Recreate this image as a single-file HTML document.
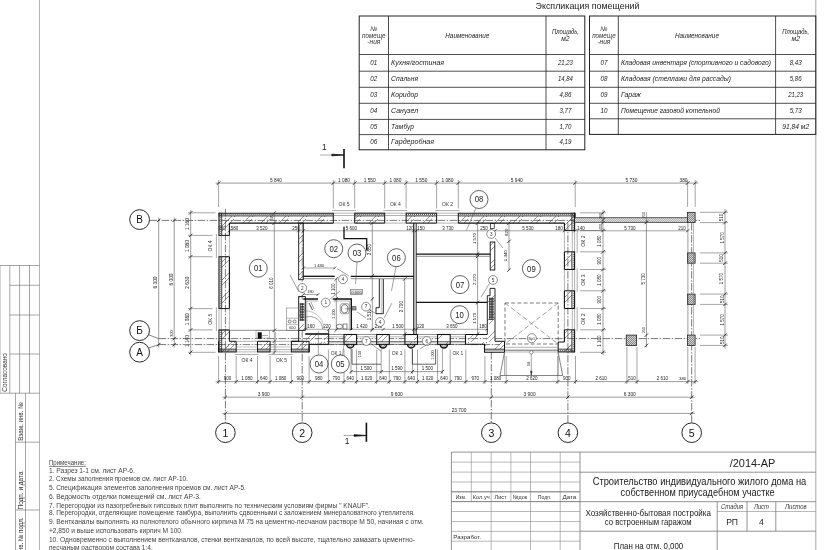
<!DOCTYPE html>
<html lang="ru"><head><meta charset="utf-8"><title>План на отм. 0,000</title>
<style>
html,body{margin:0;padding:0;background:#fff;}
body{width:825px;height:550px;overflow:hidden;}
svg{display:block;filter:grayscale(1);font-family:"Liberation Sans",sans-serif;}
svg text{white-space:pre;}
</style></head><body>
<svg width="825" height="550" viewBox="0 0 825 550">
<defs>
<pattern id="hw" width="18" height="18" patternUnits="userSpaceOnUse">
<path d="M-2 18 L18 -2 M3 18 L18 3 M-2 3 L3 -2" stroke="#505050" stroke-width="0.6" fill="none"/>
</pattern>
<pattern id="hd" width="2" height="2" patternUnits="userSpaceOnUse">
<path d="M-0.5 2.5 L2.5 -0.5 M-0.5 0.5 L0.5 -0.5 M1.5 2.5 L2.5 1.5" stroke="#333" stroke-width="0.55" fill="none"/>
</pattern>
<pattern id="hx" width="1.6" height="1.6" patternUnits="userSpaceOnUse">
<path d="M0 1.6 L1.6 0 M0 0 L1.6 1.6" stroke="#333" stroke-width="0.36" fill="none"/>
</pattern>
<pattern id="hc" width="2" height="2" patternUnits="userSpaceOnUse">
<rect width="2" height="2" fill="#d0d0d0"/>
<path d="M-0.5 2.5 L2.5 -0.5 M-0.5 0.5 L0.5 -0.5 M1.5 2.5 L2.5 1.5" stroke="#444" stroke-width="0.5" fill="none"/>
</pattern>
<pattern id="hl" width="2" height="2" patternUnits="userSpaceOnUse">
<rect width="2" height="2" fill="#e4e4e4"/>
<path d="M-0.5 2.5 L2.5 -0.5 M-0.5 0.5 L0.5 -0.5 M1.5 2.5 L2.5 1.5" stroke="#777" stroke-width="0.45" fill="none"/>
</pattern>
<pattern id="hv" width="2.4" height="2.6" patternUnits="userSpaceOnUse">
<rect width="2.4" height="2.6" fill="#3a3a3a"/>
<rect x="0.6" y="0.7" width="1.2" height="1.2" fill="#e8e8e8"/>
</pattern>
</defs>
<rect x="0" y="0" width="825" height="550" fill="#fff"/>
<line x1="39.5" y1="0" x2="39.5" y2="550" stroke="#b4b4b4" stroke-width="1"/>
<line x1="815.8" y1="0" x2="815.8" y2="550" stroke="#a8a8a8" stroke-width="1"/>
<line x1="0" y1="265.5" x2="39.5" y2="265.5" stroke="#6a6a6a" stroke-width="0.6"/>
<line x1="9.8" y1="285.3" x2="39.5" y2="285.3" stroke="#6a6a6a" stroke-width="0.6"/>
<line x1="9.8" y1="315" x2="39.5" y2="315" stroke="#6a6a6a" stroke-width="0.6"/>
<line x1="9.8" y1="354" x2="39.5" y2="354" stroke="#6a6a6a" stroke-width="0.6"/>
<line x1="0" y1="393.2" x2="39.5" y2="393.2" stroke="#6a6a6a" stroke-width="0.6"/>
<line x1="9.8" y1="265.5" x2="9.8" y2="393.2" stroke="#6a6a6a" stroke-width="0.6"/>
<line x1="19.6" y1="265.5" x2="19.6" y2="393.2" stroke="#6a6a6a" stroke-width="0.6"/>
<line x1="29.5" y1="265.5" x2="29.5" y2="393.2" stroke="#6a6a6a" stroke-width="0.6"/>
<line x1="0.3" y1="265.5" x2="0.3" y2="393" stroke="#aaa" stroke-width="0.6"/>
<line x1="15.5" y1="393.2" x2="15.5" y2="550" stroke="#6a6a6a" stroke-width="0.6"/>
<line x1="25.5" y1="393.2" x2="25.5" y2="550" stroke="#6a6a6a" stroke-width="0.6"/>
<line x1="15.5" y1="442.2" x2="39.5" y2="442.2" stroke="#6a6a6a" stroke-width="0.6"/>
<line x1="15.5" y1="510" x2="39.5" y2="510" stroke="#6a6a6a" stroke-width="0.6"/>
<text x="7.2" y="372.4" font-size="6.6" text-anchor="middle" transform="rotate(-90 7.2 372.4)" textLength="38.5" lengthAdjust="spacingAndGlyphs" fill="#333">Согласовано</text>
<text x="22.8" y="421.5" font-size="7" text-anchor="middle" transform="rotate(-90 22.8 421.5)" textLength="38.7" lengthAdjust="spacingAndGlyphs" fill="#333">Взам. инв. №</text>
<text x="22.8" y="490.5" font-size="7" text-anchor="middle" transform="rotate(-90 22.8 490.5)" textLength="38" lengthAdjust="spacingAndGlyphs" fill="#333">Подп. и дата</text>
<text x="22.8" y="536.5" font-size="7" text-anchor="middle" transform="rotate(-90 22.8 536.5)" textLength="38" lengthAdjust="spacingAndGlyphs" fill="#333">Инв. № подл.</text>
<g id="expl">
<text x="587.5" y="9.1" font-size="9.6" text-anchor="middle" textLength="104" lengthAdjust="spacingAndGlyphs" fill="#222">Экспликация помещений</text>
<rect x="359.2" y="16" width="225.6" height="133.8" fill="none" stroke="#222" stroke-width="1"/>
<line x1="359.2" y1="71.2" x2="584.8" y2="71.2" stroke="#222" stroke-width="0.8"/>
<line x1="359.2" y1="87.3" x2="584.8" y2="87.3" stroke="#222" stroke-width="0.8"/>
<line x1="359.2" y1="103.3" x2="584.8" y2="103.3" stroke="#222" stroke-width="0.8"/>
<line x1="359.2" y1="119.4" x2="584.8" y2="119.4" stroke="#222" stroke-width="0.8"/>
<line x1="359.2" y1="134.6" x2="584.8" y2="134.6" stroke="#222" stroke-width="0.8"/>
<line x1="388.5" y1="16" x2="388.5" y2="149.8" stroke="#222" stroke-width="0.8"/>
<line x1="546" y1="16" x2="546" y2="149.8" stroke="#222" stroke-width="0.8"/>
<text x="373.85" y="31.4" font-size="6.6" text-anchor="middle" font-style="italic" fill="#333">№</text>
<text x="373.85" y="37.6" font-size="6.6" text-anchor="middle" textLength="23.5" lengthAdjust="spacingAndGlyphs" font-style="italic" fill="#333">помеще</text>
<text x="373.85" y="43.7" font-size="6.6" text-anchor="middle" textLength="13" lengthAdjust="spacingAndGlyphs" font-style="italic" fill="#333">-ния</text>
<text x="467.25" y="37.6" font-size="6.8" text-anchor="middle" textLength="44" lengthAdjust="spacingAndGlyphs" font-style="italic" fill="#222">Наименование</text>
<text x="565.4" y="34.2" font-size="6.8" text-anchor="middle" textLength="27" lengthAdjust="spacingAndGlyphs" font-style="italic" fill="#222">Площадь,</text>
<text x="565.4" y="40.6" font-size="6.8" text-anchor="middle" font-style="italic" fill="#222">м2</text>
<text x="373.85" y="64.95" font-size="7" text-anchor="middle" textLength="7" lengthAdjust="spacingAndGlyphs" font-style="italic" fill="#222">01</text>
<text x="391.1" y="64.95" font-size="7.3" textLength="53" lengthAdjust="spacingAndGlyphs" font-style="italic" fill="#222">Кухня/гостиная</text>
<text x="565.4" y="64.95" font-size="7" text-anchor="middle" textLength="15" lengthAdjust="spacingAndGlyphs" font-style="italic" fill="#222">21,23</text>
<text x="373.85" y="81.35" font-size="7" text-anchor="middle" textLength="7" lengthAdjust="spacingAndGlyphs" font-style="italic" fill="#222">02</text>
<text x="391.1" y="81.35" font-size="7.3" textLength="27" lengthAdjust="spacingAndGlyphs" font-style="italic" fill="#222">Спальня</text>
<text x="565.4" y="81.35" font-size="7" text-anchor="middle" textLength="15" lengthAdjust="spacingAndGlyphs" font-style="italic" fill="#222">14,84</text>
<text x="373.85" y="97.4" font-size="7" text-anchor="middle" textLength="7" lengthAdjust="spacingAndGlyphs" font-style="italic" fill="#222">03</text>
<text x="391.1" y="97.4" font-size="7.3" textLength="27" lengthAdjust="spacingAndGlyphs" font-style="italic" fill="#222">Коридор</text>
<text x="565.4" y="97.4" font-size="7" text-anchor="middle" textLength="12" lengthAdjust="spacingAndGlyphs" font-style="italic" fill="#222">4,86</text>
<text x="373.85" y="113.45" font-size="7" text-anchor="middle" textLength="7" lengthAdjust="spacingAndGlyphs" font-style="italic" fill="#222">04</text>
<text x="391.1" y="113.45" font-size="7.3" textLength="27" lengthAdjust="spacingAndGlyphs" font-style="italic" fill="#222">Санузел</text>
<text x="565.4" y="113.45" font-size="7" text-anchor="middle" textLength="12" lengthAdjust="spacingAndGlyphs" font-style="italic" fill="#222">3,77</text>
<text x="373.85" y="129.1" font-size="7" text-anchor="middle" textLength="7" lengthAdjust="spacingAndGlyphs" font-style="italic" fill="#222">05</text>
<text x="391.1" y="129.1" font-size="7.3" textLength="23" lengthAdjust="spacingAndGlyphs" font-style="italic" fill="#222">Тамбур</text>
<text x="565.4" y="129.1" font-size="7" text-anchor="middle" textLength="12" lengthAdjust="spacingAndGlyphs" font-style="italic" fill="#222">1,70</text>
<text x="373.85" y="144.3" font-size="7" text-anchor="middle" textLength="7" lengthAdjust="spacingAndGlyphs" font-style="italic" fill="#222">06</text>
<text x="391.1" y="144.3" font-size="7.3" textLength="43" lengthAdjust="spacingAndGlyphs" font-style="italic" fill="#222">Гардеробная</text>
<text x="565.4" y="144.3" font-size="7" text-anchor="middle" textLength="12" lengthAdjust="spacingAndGlyphs" font-style="italic" fill="#222">4,19</text>
<line x1="359.2" y1="54.5" x2="584.8" y2="54.5" stroke="#222" stroke-width="0.8"/>
<rect x="589.5" y="16" width="226.3" height="118.4" fill="none" stroke="#222" stroke-width="1"/>
<line x1="589.5" y1="71.2" x2="815.8" y2="71.2" stroke="#222" stroke-width="0.8"/>
<line x1="589.5" y1="87.3" x2="815.8" y2="87.3" stroke="#222" stroke-width="0.8"/>
<line x1="589.5" y1="103.3" x2="815.8" y2="103.3" stroke="#222" stroke-width="0.8"/>
<line x1="589.5" y1="118.8" x2="815.8" y2="118.8" stroke="#222" stroke-width="0.8"/>
<line x1="618.3" y1="16" x2="618.3" y2="134.4" stroke="#222" stroke-width="0.8"/>
<line x1="775.6" y1="16" x2="775.6" y2="134.4" stroke="#222" stroke-width="0.8"/>
<text x="603.9" y="31.4" font-size="6.6" text-anchor="middle" font-style="italic" fill="#333">№</text>
<text x="603.9" y="37.6" font-size="6.6" text-anchor="middle" textLength="23.5" lengthAdjust="spacingAndGlyphs" font-style="italic" fill="#333">помеще</text>
<text x="603.9" y="43.7" font-size="6.6" text-anchor="middle" textLength="13" lengthAdjust="spacingAndGlyphs" font-style="italic" fill="#333">-ния</text>
<text x="696.95" y="37.6" font-size="6.8" text-anchor="middle" textLength="44" lengthAdjust="spacingAndGlyphs" font-style="italic" fill="#222">Наименование</text>
<text x="795.7" y="34.2" font-size="6.8" text-anchor="middle" textLength="27" lengthAdjust="spacingAndGlyphs" font-style="italic" fill="#222">Площадь,</text>
<text x="795.7" y="40.6" font-size="6.8" text-anchor="middle" font-style="italic" fill="#222">м2</text>
<text x="603.9" y="64.95" font-size="7" text-anchor="middle" textLength="7" lengthAdjust="spacingAndGlyphs" font-style="italic" fill="#222">07</text>
<text x="620.9" y="64.95" font-size="7.3" textLength="150" lengthAdjust="spacingAndGlyphs" font-style="italic" fill="#222">Кладовая инвентаря (спортивного и садового)</text>
<text x="795.7" y="64.95" font-size="7" text-anchor="middle" textLength="12" lengthAdjust="spacingAndGlyphs" font-style="italic" fill="#222">8,43</text>
<text x="603.9" y="81.35" font-size="7" text-anchor="middle" textLength="7" lengthAdjust="spacingAndGlyphs" font-style="italic" fill="#222">08</text>
<text x="620.9" y="81.35" font-size="7.3" textLength="110" lengthAdjust="spacingAndGlyphs" font-style="italic" fill="#222">Кладовая (стеллажи для рассады)</text>
<text x="795.7" y="81.35" font-size="7" text-anchor="middle" textLength="12" lengthAdjust="spacingAndGlyphs" font-style="italic" fill="#222">5,86</text>
<text x="603.9" y="97.4" font-size="7" text-anchor="middle" textLength="7" lengthAdjust="spacingAndGlyphs" font-style="italic" fill="#222">09</text>
<text x="620.9" y="97.4" font-size="7.3" textLength="20" lengthAdjust="spacingAndGlyphs" font-style="italic" fill="#222">Гараж</text>
<text x="795.7" y="97.4" font-size="7" text-anchor="middle" textLength="15" lengthAdjust="spacingAndGlyphs" font-style="italic" fill="#222">21,23</text>
<text x="603.9" y="113.15" font-size="7" text-anchor="middle" textLength="7" lengthAdjust="spacingAndGlyphs" font-style="italic" fill="#222">10</text>
<text x="620.9" y="113.15" font-size="7.3" textLength="99" lengthAdjust="spacingAndGlyphs" font-style="italic" fill="#222">Помещение газовой котельной</text>
<text x="795.7" y="113.15" font-size="7" text-anchor="middle" textLength="12" lengthAdjust="spacingAndGlyphs" font-style="italic" fill="#222">5,73</text>
<text x="795.7" y="128.7" font-size="7" text-anchor="middle" textLength="27" lengthAdjust="spacingAndGlyphs" font-style="italic" fill="#222">91,84 м2</text>
<line x1="589.5" y1="54.5" x2="815.8" y2="54.5" stroke="#222" stroke-width="0.8"/>
</g>
<line x1="451.4" y1="452.1" x2="815.8" y2="452.1" stroke="#777" stroke-width="0.8"/>
<line x1="451.4" y1="452.1" x2="451.4" y2="550" stroke="#777" stroke-width="0.8"/>
<line x1="580" y1="452.1" x2="580" y2="550" stroke="#777" stroke-width="0.8"/>
<line x1="471.3" y1="452.1" x2="471.3" y2="501.5" stroke="#8a8a8a" stroke-width="0.6"/>
<line x1="491.2" y1="452.1" x2="491.2" y2="550" stroke="#8a8a8a" stroke-width="0.6"/>
<line x1="510.9" y1="452.1" x2="510.9" y2="501.5" stroke="#8a8a8a" stroke-width="0.6"/>
<line x1="530.5" y1="452.1" x2="530.5" y2="550" stroke="#8a8a8a" stroke-width="0.6"/>
<line x1="560.2" y1="452.1" x2="560.2" y2="550" stroke="#8a8a8a" stroke-width="0.6"/>
<line x1="451.4" y1="462.1" x2="580" y2="462.1" stroke="#8a8a8a" stroke-width="0.6"/>
<line x1="451.4" y1="472.1" x2="580" y2="472.1" stroke="#8a8a8a" stroke-width="0.6"/>
<line x1="451.4" y1="482" x2="580" y2="482" stroke="#8a8a8a" stroke-width="0.6"/>
<line x1="451.4" y1="491.8" x2="580" y2="491.8" stroke="#8a8a8a" stroke-width="0.6"/>
<line x1="451.4" y1="501.6" x2="580" y2="501.6" stroke="#8a8a8a" stroke-width="0.6"/>
<line x1="451.4" y1="511.5" x2="580" y2="511.5" stroke="#8a8a8a" stroke-width="0.6"/>
<line x1="451.4" y1="521.5" x2="580" y2="521.5" stroke="#8a8a8a" stroke-width="0.6"/>
<line x1="451.4" y1="531.4" x2="580" y2="531.4" stroke="#8a8a8a" stroke-width="0.6"/>
<line x1="451.4" y1="541.2" x2="580" y2="541.2" stroke="#8a8a8a" stroke-width="0.6"/>
<line x1="451.4" y1="501.6" x2="580" y2="501.6" stroke="#777" stroke-width="0.8"/>
<line x1="451.4" y1="491.8" x2="580" y2="491.8" stroke="#777" stroke-width="0.8"/>
<line x1="580" y1="472.2" x2="815.8" y2="472.2" stroke="#777" stroke-width="0.8"/>
<line x1="580" y1="501.7" x2="815.8" y2="501.7" stroke="#777" stroke-width="0.8"/>
<line x1="580" y1="531.2" x2="815.8" y2="531.2" stroke="#777" stroke-width="0.8"/>
<line x1="717.2" y1="511.5" x2="815.8" y2="511.5" stroke="#8a8a8a" stroke-width="0.6"/>
<line x1="717.2" y1="501.7" x2="717.2" y2="550" stroke="#777" stroke-width="0.8"/>
<line x1="747" y1="501.7" x2="747" y2="531.2" stroke="#777" stroke-width="0.8"/>
<line x1="775.8" y1="501.7" x2="775.8" y2="531.2" stroke="#777" stroke-width="0.8"/>
<text x="461" y="499.2" font-size="6" text-anchor="middle" textLength="10.4" lengthAdjust="spacingAndGlyphs" fill="#333">Изм.</text>
<text x="481.2" y="499.2" font-size="6" text-anchor="middle" textLength="17" lengthAdjust="spacingAndGlyphs" fill="#333">Кол.уч</text>
<text x="500.6" y="499.2" font-size="6" text-anchor="middle" textLength="12" lengthAdjust="spacingAndGlyphs" fill="#333">Лист</text>
<text x="520" y="499.2" font-size="6" text-anchor="middle" textLength="14.5" lengthAdjust="spacingAndGlyphs" fill="#333">№док</text>
<text x="544.6" y="499.2" font-size="6" text-anchor="middle" textLength="13.8" lengthAdjust="spacingAndGlyphs" fill="#333">Подп.</text>
<text x="569.4" y="499.2" font-size="6" text-anchor="middle" textLength="14" lengthAdjust="spacingAndGlyphs" fill="#333">Дата</text>
<text x="453.3" y="538.9" font-size="6" textLength="27.9" lengthAdjust="spacingAndGlyphs" fill="#333">Разработ.</text>
<text x="752.5" y="466.8" font-size="11.8" text-anchor="middle" textLength="45.6" lengthAdjust="spacingAndGlyphs" fill="#222">/2014-АР</text>
<text x="699.5" y="485.2" font-size="10.2" text-anchor="middle" textLength="213.6" lengthAdjust="spacingAndGlyphs" fill="#222">Строительство индивидуального жилого дома на</text>
<text x="697.6" y="495.9" font-size="10.2" text-anchor="middle" textLength="154" lengthAdjust="spacingAndGlyphs" fill="#222">собственном приусадебном участке</text>
<text x="648.2" y="515.5" font-size="8.4" text-anchor="middle" textLength="125.5" lengthAdjust="spacingAndGlyphs" fill="#222">Хозяйственно-бытовая постройка</text>
<text x="648.2" y="525.4" font-size="8.4" text-anchor="middle" textLength="87" lengthAdjust="spacingAndGlyphs" fill="#222">со встроенным гаражом</text>
<text x="732.1" y="509.3" font-size="6.4" text-anchor="middle" textLength="22" lengthAdjust="spacingAndGlyphs" font-style="italic" fill="#333">Стадия</text>
<text x="761.4" y="509.3" font-size="6.4" text-anchor="middle" textLength="15" lengthAdjust="spacingAndGlyphs" font-style="italic" fill="#333">Лист</text>
<text x="795.8" y="509.3" font-size="6.4" text-anchor="middle" textLength="21.5" lengthAdjust="spacingAndGlyphs" font-style="italic" fill="#333">Листов</text>
<text x="732.1" y="525" font-size="8.6" text-anchor="middle" fill="#222">РП</text>
<text x="761.4" y="525" font-size="8.6" text-anchor="middle" fill="#222">4</text>
<text x="648.5" y="548.5" font-size="8.4" text-anchor="middle" textLength="69.5" lengthAdjust="spacingAndGlyphs" fill="#222">План на отм. 0,000</text>
<g id="notes">
<text x="48.9" y="464.9" font-size="6.8" textLength="37" lengthAdjust="spacingAndGlyphs" fill="#444" text-decoration="underline">Примечание:</text>
<text x="48.9" y="472.9" font-size="6.8" textLength="86" lengthAdjust="spacingAndGlyphs" fill="#444">1. Разрез 1-1 см. лист АР-6.</text>
<text x="48.9" y="480.7" font-size="6.8" textLength="139" lengthAdjust="spacingAndGlyphs" fill="#444">2. Схемы заполнения проемов см. лист АР-10.</text>
<text x="48.9" y="490" font-size="6.8" textLength="197" lengthAdjust="spacingAndGlyphs" fill="#444">5. Спецификация элементов заполнения проемов см. лист АР-5.</text>
<text x="48.9" y="499" font-size="6.8" textLength="152" lengthAdjust="spacingAndGlyphs" fill="#444">6. Ведомость отделки помещений см. лист АР-3.</text>
<text x="48.9" y="507.7" font-size="6.8" textLength="321" lengthAdjust="spacingAndGlyphs" fill="#444">7. Перегородки из пазогребневых гипсовых плит выполнить по техническим условиям фирмы " KNAUF".</text>
<text x="48.9" y="515.4" font-size="6.8" textLength="366" lengthAdjust="spacingAndGlyphs" fill="#444">8. Перегородки, отделяющие помещение тамбура, выполнить сдвоенными с заложением минераловатного утеплителя.</text>
<text x="48.9" y="524.2" font-size="6.8" textLength="374.8" lengthAdjust="spacingAndGlyphs" fill="#444">9. Вентканалы выполнять из полнотелого обычного кирпича М 75 на цементно-песчаном растворе М 50, начиная с отм.</text>
<text x="48.9" y="532.7" font-size="6.8" textLength="134" lengthAdjust="spacingAndGlyphs" fill="#444">+2,850 и выше использовать кирпич М 100.</text>
<text x="48.9" y="541.5" font-size="6.8" textLength="366" lengthAdjust="spacingAndGlyphs" fill="#444">10. Одновременно с выполнением вентканалов, стенки вентканалов, по всей высоте, тщательно замазать цементно-</text>
<text x="48.9" y="549.7" font-size="6.8" textLength="104" lengthAdjust="spacingAndGlyphs" fill="#444">песчаным раствором состава 1:4.</text>
</g>
<g id="plan">
<line x1="149.6" y1="220.4" x2="700" y2="220.4" stroke="#333" stroke-width="0.65" stroke-dasharray="7.5 1.5 1.5 1.5"/>
<line x1="158.7" y1="338.6" x2="700" y2="338.6" stroke="#333" stroke-width="0.65" stroke-dasharray="7.5 1.5 1.5 1.5"/>
<line x1="158.7" y1="344.6" x2="500" y2="344.6" stroke="#333" stroke-width="0.65" stroke-dasharray="7.5 1.5 1.5 1.5"/>
<line x1="225.4" y1="208.8" x2="225.4" y2="422.8" stroke="#333" stroke-width="0.65" stroke-dasharray="7.5 1.5 1.5 1.5"/>
<line x1="302.2" y1="330" x2="302.2" y2="422.8" stroke="#333" stroke-width="0.65" stroke-dasharray="7.5 1.5 1.5 1.5"/>
<line x1="491.3" y1="352" x2="491.3" y2="422.8" stroke="#333" stroke-width="0.65" stroke-dasharray="7.5 1.5 1.5 1.5"/>
<line x1="567.9" y1="223.1" x2="567.9" y2="422.8" stroke="#333" stroke-width="0.65" stroke-dasharray="7.5 1.5 1.5 1.5"/>
<line x1="691.7" y1="223.1" x2="691.7" y2="422.8" stroke="#333" stroke-width="0.65" stroke-dasharray="7.5 1.5 1.5 1.5"/>
<line x1="302.2" y1="223" x2="302.2" y2="300" stroke="#333" stroke-width="0.5" stroke-dasharray="7.5 1.5 1.5 1.5"/>
<circle cx="225.4" cy="432.7" r="9.8" fill="none" stroke="#111" stroke-width="0.9"/>
<text x="225.4" y="436.6" font-size="10.5" text-anchor="middle" fill="#111">1</text>
<circle cx="302.2" cy="432.7" r="9.8" fill="none" stroke="#111" stroke-width="0.9"/>
<text x="302.2" y="436.6" font-size="10.5" text-anchor="middle" fill="#111">2</text>
<circle cx="491.3" cy="432.7" r="9.8" fill="none" stroke="#111" stroke-width="0.9"/>
<text x="491.3" y="436.6" font-size="10.5" text-anchor="middle" fill="#111">3</text>
<circle cx="567.9" cy="432.7" r="9.8" fill="none" stroke="#111" stroke-width="0.9"/>
<text x="567.9" y="436.6" font-size="10.5" text-anchor="middle" fill="#111">4</text>
<circle cx="691.7" cy="432.7" r="9.8" fill="none" stroke="#111" stroke-width="0.9"/>
<text x="691.7" y="436.6" font-size="10.5" text-anchor="middle" fill="#111">5</text>
<circle cx="139.6" cy="219.6" r="9.9" fill="none" stroke="#111" stroke-width="0.9"/>
<text x="139.6" y="223.3" font-size="10" text-anchor="middle" fill="#111">В</text>
<circle cx="139.6" cy="330.6" r="9.9" fill="none" stroke="#111" stroke-width="0.9"/>
<text x="139.6" y="334.3" font-size="10" text-anchor="middle" fill="#111">Б</text>
<circle cx="139.6" cy="352.2" r="9.9" fill="none" stroke="#111" stroke-width="0.9"/>
<text x="139.6" y="355.9" font-size="10" text-anchor="middle" fill="#111">А</text>
<line x1="148.6" y1="334.8" x2="158.7" y2="338.6" stroke="#333" stroke-width="0.6"/>
<line x1="148.6" y1="348" x2="158.7" y2="344.6" stroke="#333" stroke-width="0.6"/>
<rect x="218.6" y="215.9" width="114.7" height="7.2" fill="url(#hw)"/>
<line x1="218.6" y1="213.2" x2="333.3" y2="213.2" stroke="#111" stroke-width="1.1"/>
<line x1="218.6" y1="214.5" x2="333.3" y2="214.5" stroke="#333" stroke-width="0.9" stroke-dasharray="1 1"/>
<line x1="218.6" y1="215.9" x2="333.3" y2="215.9" stroke="#222" stroke-width="0.9"/>
<rect x="354.7" y="215.9" width="30" height="7.2" fill="url(#hw)"/>
<line x1="354.7" y1="213.2" x2="384.7" y2="213.2" stroke="#111" stroke-width="1.1"/>
<line x1="354.7" y1="214.5" x2="384.7" y2="214.5" stroke="#333" stroke-width="0.9" stroke-dasharray="1 1"/>
<line x1="354.7" y1="215.9" x2="384.7" y2="215.9" stroke="#222" stroke-width="0.9"/>
<rect x="406.1" y="215.9" width="30.5" height="7.2" fill="url(#hw)"/>
<line x1="406.1" y1="213.2" x2="436.6" y2="213.2" stroke="#111" stroke-width="1.1"/>
<line x1="406.1" y1="214.5" x2="436.6" y2="214.5" stroke="#333" stroke-width="0.9" stroke-dasharray="1 1"/>
<line x1="406.1" y1="215.9" x2="436.6" y2="215.9" stroke="#222" stroke-width="0.9"/>
<rect x="458.3" y="215.9" width="116.7" height="7.2" fill="url(#hw)"/>
<line x1="458.3" y1="213.2" x2="575" y2="213.2" stroke="#111" stroke-width="1.1"/>
<line x1="458.3" y1="214.5" x2="575" y2="214.5" stroke="#333" stroke-width="0.9" stroke-dasharray="1 1"/>
<line x1="458.3" y1="215.9" x2="575" y2="215.9" stroke="#222" stroke-width="0.9"/>
<line x1="229.4" y1="223.1" x2="333.3" y2="223.1" stroke="#111" stroke-width="1.1"/>
<line x1="354.7" y1="223.1" x2="384.7" y2="223.1" stroke="#111" stroke-width="1.1"/>
<line x1="406.1" y1="223.1" x2="436.6" y2="223.1" stroke="#111" stroke-width="1.1"/>
<line x1="458.3" y1="223.1" x2="564.4" y2="223.1" stroke="#111" stroke-width="1.1"/>
<line x1="333.3" y1="212.8" x2="333.3" y2="223.1" stroke="#111" stroke-width="1"/>
<line x1="354.7" y1="212.8" x2="354.7" y2="223.1" stroke="#111" stroke-width="1"/>
<line x1="332" y1="210.6" x2="356" y2="210.6" stroke="#666" stroke-width="0.55"/>
<line x1="333.3" y1="213.2" x2="354.7" y2="213.2" stroke="#666" stroke-width="0.5"/>
<line x1="333.3" y1="215.5" x2="354.7" y2="215.5" stroke="#666" stroke-width="0.5"/>
<line x1="333.3" y1="223.1" x2="354.7" y2="223.1" stroke="#666" stroke-width="0.5"/>
<line x1="384.7" y1="212.8" x2="384.7" y2="223.1" stroke="#111" stroke-width="1"/>
<line x1="406.1" y1="212.8" x2="406.1" y2="223.1" stroke="#111" stroke-width="1"/>
<line x1="383.4" y1="210.6" x2="407.4" y2="210.6" stroke="#666" stroke-width="0.55"/>
<line x1="384.7" y1="213.2" x2="406.1" y2="213.2" stroke="#666" stroke-width="0.5"/>
<line x1="384.7" y1="215.5" x2="406.1" y2="215.5" stroke="#666" stroke-width="0.5"/>
<line x1="384.7" y1="223.1" x2="406.1" y2="223.1" stroke="#666" stroke-width="0.5"/>
<line x1="436.6" y1="212.8" x2="436.6" y2="223.1" stroke="#111" stroke-width="1"/>
<line x1="458.3" y1="212.8" x2="458.3" y2="223.1" stroke="#111" stroke-width="1"/>
<line x1="435.3" y1="210.6" x2="459.6" y2="210.6" stroke="#666" stroke-width="0.55"/>
<line x1="436.6" y1="213.2" x2="458.3" y2="213.2" stroke="#666" stroke-width="0.5"/>
<line x1="436.6" y1="215.5" x2="458.3" y2="215.5" stroke="#666" stroke-width="0.5"/>
<line x1="436.6" y1="223.1" x2="458.3" y2="223.1" stroke="#666" stroke-width="0.5"/>
<rect x="221.7" y="212.8" width="7.7" height="22.6" fill="url(#hw)"/>
<line x1="219" y1="212.8" x2="219" y2="235.4" stroke="#111" stroke-width="1.1"/>
<line x1="220.3" y1="212.8" x2="220.3" y2="235.4" stroke="#333" stroke-width="0.9" stroke-dasharray="1 1"/>
<line x1="221.7" y1="212.8" x2="221.7" y2="235.4" stroke="#222" stroke-width="0.9"/>
<rect x="221.7" y="256.7" width="7.7" height="51.9" fill="url(#hw)"/>
<line x1="219" y1="256.7" x2="219" y2="308.6" stroke="#111" stroke-width="1.1"/>
<line x1="220.3" y1="256.7" x2="220.3" y2="308.6" stroke="#333" stroke-width="0.9" stroke-dasharray="1 1"/>
<line x1="221.7" y1="256.7" x2="221.7" y2="308.6" stroke="#222" stroke-width="0.9"/>
<rect x="221.7" y="329.9" width="7.7" height="22.4" fill="url(#hw)"/>
<line x1="219" y1="329.9" x2="219" y2="352.3" stroke="#111" stroke-width="1.1"/>
<line x1="220.3" y1="329.9" x2="220.3" y2="352.3" stroke="#333" stroke-width="0.9" stroke-dasharray="1 1"/>
<line x1="221.7" y1="329.9" x2="221.7" y2="352.3" stroke="#222" stroke-width="0.9"/>
<line x1="229.4" y1="223.1" x2="229.4" y2="235.4" stroke="#111" stroke-width="1.1"/>
<line x1="229.4" y1="256.7" x2="229.4" y2="308.6" stroke="#111" stroke-width="1.1"/>
<line x1="229.4" y1="329.9" x2="229.4" y2="330.3" stroke="#111" stroke-width="1.1"/>
<line x1="218.6" y1="235.4" x2="229.4" y2="235.4" stroke="#111" stroke-width="1"/>
<line x1="218.6" y1="256.7" x2="229.4" y2="256.7" stroke="#111" stroke-width="1"/>
<line x1="216.4" y1="234.1" x2="216.4" y2="258" stroke="#666" stroke-width="0.55"/>
<line x1="219" y1="235.4" x2="219" y2="256.7" stroke="#666" stroke-width="0.5"/>
<line x1="221.3" y1="235.4" x2="221.3" y2="256.7" stroke="#666" stroke-width="0.5"/>
<line x1="229.4" y1="235.4" x2="229.4" y2="256.7" stroke="#666" stroke-width="0.5"/>
<line x1="218.6" y1="308.6" x2="229.4" y2="308.6" stroke="#111" stroke-width="1"/>
<line x1="218.6" y1="329.9" x2="229.4" y2="329.9" stroke="#111" stroke-width="1"/>
<line x1="216.4" y1="307.3" x2="216.4" y2="331.2" stroke="#666" stroke-width="0.55"/>
<line x1="219" y1="308.6" x2="219" y2="329.9" stroke="#666" stroke-width="0.5"/>
<line x1="221.3" y1="308.6" x2="221.3" y2="329.9" stroke="#666" stroke-width="0.5"/>
<line x1="229.4" y1="308.6" x2="229.4" y2="329.9" stroke="#666" stroke-width="0.5"/>
<rect x="564.4" y="212.8" width="7.5" height="17.7" fill="url(#hw)"/>
<line x1="574.6" y1="212.8" x2="574.6" y2="230.5" stroke="#111" stroke-width="1.1"/>
<line x1="573.3" y1="212.8" x2="573.3" y2="230.5" stroke="#333" stroke-width="0.9" stroke-dasharray="1 1"/>
<line x1="571.9" y1="212.8" x2="571.9" y2="230.5" stroke="#222" stroke-width="0.9"/>
<rect x="564.4" y="251.8" width="7.5" height="17.7" fill="url(#hw)"/>
<line x1="574.6" y1="251.8" x2="574.6" y2="269.5" stroke="#111" stroke-width="1.1"/>
<line x1="573.3" y1="251.8" x2="573.3" y2="269.5" stroke="#333" stroke-width="0.9" stroke-dasharray="1 1"/>
<line x1="571.9" y1="251.8" x2="571.9" y2="269.5" stroke="#222" stroke-width="0.9"/>
<rect x="564.4" y="290.8" width="7.5" height="17.7" fill="url(#hw)"/>
<line x1="574.6" y1="290.8" x2="574.6" y2="308.5" stroke="#111" stroke-width="1.1"/>
<line x1="573.3" y1="290.8" x2="573.3" y2="308.5" stroke="#333" stroke-width="0.9" stroke-dasharray="1 1"/>
<line x1="571.9" y1="290.8" x2="571.9" y2="308.5" stroke="#222" stroke-width="0.9"/>
<rect x="564.4" y="329.8" width="7.5" height="22.5" fill="url(#hw)"/>
<line x1="574.6" y1="329.8" x2="574.6" y2="352.3" stroke="#111" stroke-width="1.1"/>
<line x1="573.3" y1="329.8" x2="573.3" y2="352.3" stroke="#333" stroke-width="0.9" stroke-dasharray="1 1"/>
<line x1="571.9" y1="329.8" x2="571.9" y2="352.3" stroke="#222" stroke-width="0.9"/>
<line x1="564.4" y1="223.1" x2="564.4" y2="230.5" stroke="#111" stroke-width="1.1"/>
<line x1="564.4" y1="251.8" x2="564.4" y2="269.5" stroke="#111" stroke-width="1.1"/>
<line x1="564.4" y1="290.8" x2="564.4" y2="308.5" stroke="#111" stroke-width="1.1"/>
<line x1="564.4" y1="329.8" x2="564.4" y2="342" stroke="#111" stroke-width="1.1"/>
<line x1="564.4" y1="230.5" x2="575" y2="230.5" stroke="#111" stroke-width="1"/>
<line x1="564.4" y1="251.8" x2="575" y2="251.8" stroke="#111" stroke-width="1"/>
<line x1="577.2" y1="229.2" x2="577.2" y2="253.1" stroke="#666" stroke-width="0.55"/>
<line x1="574.6" y1="230.5" x2="574.6" y2="251.8" stroke="#666" stroke-width="0.5"/>
<line x1="572.3" y1="230.5" x2="572.3" y2="251.8" stroke="#666" stroke-width="0.5"/>
<line x1="564.4" y1="230.5" x2="564.4" y2="251.8" stroke="#666" stroke-width="0.5"/>
<line x1="564.4" y1="269.5" x2="575" y2="269.5" stroke="#111" stroke-width="1"/>
<line x1="564.4" y1="290.8" x2="575" y2="290.8" stroke="#111" stroke-width="1"/>
<line x1="577.2" y1="268.2" x2="577.2" y2="292.1" stroke="#666" stroke-width="0.55"/>
<line x1="574.6" y1="269.5" x2="574.6" y2="290.8" stroke="#666" stroke-width="0.5"/>
<line x1="572.3" y1="269.5" x2="572.3" y2="290.8" stroke="#666" stroke-width="0.5"/>
<line x1="564.4" y1="269.5" x2="564.4" y2="290.8" stroke="#666" stroke-width="0.5"/>
<line x1="564.4" y1="308.5" x2="575" y2="308.5" stroke="#111" stroke-width="1"/>
<line x1="564.4" y1="329.8" x2="575" y2="329.8" stroke="#111" stroke-width="1"/>
<line x1="577.2" y1="307.2" x2="577.2" y2="331.1" stroke="#666" stroke-width="0.55"/>
<line x1="574.6" y1="308.5" x2="574.6" y2="329.8" stroke="#666" stroke-width="0.5"/>
<line x1="572.3" y1="308.5" x2="572.3" y2="329.8" stroke="#666" stroke-width="0.5"/>
<line x1="564.4" y1="308.5" x2="564.4" y2="329.8" stroke="#666" stroke-width="0.5"/>
<line x1="218.6" y1="330.3" x2="300" y2="330.3" stroke="#444" stroke-width="0.6"/>
<rect x="218.6" y="341.3" width="17.6" height="7.9" fill="url(#hw)"/>
<line x1="218.6" y1="351.9" x2="236.2" y2="351.9" stroke="#111" stroke-width="1.1"/>
<line x1="218.6" y1="350.6" x2="236.2" y2="350.6" stroke="#333" stroke-width="0.9" stroke-dasharray="1 1"/>
<line x1="218.6" y1="349.2" x2="236.2" y2="349.2" stroke="#222" stroke-width="0.9"/>
<line x1="218.6" y1="341.3" x2="218.6" y2="352.3" stroke="#111" stroke-width="1"/>
<line x1="236.2" y1="341.3" x2="236.2" y2="352.3" stroke="#111" stroke-width="1"/>
<rect x="257.5" y="341.3" width="12.6" height="7.9" fill="url(#hw)"/>
<line x1="257.5" y1="351.9" x2="270.1" y2="351.9" stroke="#111" stroke-width="1.1"/>
<line x1="257.5" y1="350.6" x2="270.1" y2="350.6" stroke="#333" stroke-width="0.9" stroke-dasharray="1 1"/>
<line x1="257.5" y1="349.2" x2="270.1" y2="349.2" stroke="#222" stroke-width="0.9"/>
<line x1="257.5" y1="341.3" x2="257.5" y2="352.3" stroke="#111" stroke-width="1"/>
<line x1="270.1" y1="341.3" x2="270.1" y2="352.3" stroke="#111" stroke-width="1"/>
<line x1="257.5" y1="341.3" x2="270.1" y2="341.3" stroke="#111" stroke-width="1"/>
<rect x="291.4" y="341.3" width="17.7" height="7.9" fill="url(#hw)"/>
<line x1="291.4" y1="351.9" x2="309.1" y2="351.9" stroke="#111" stroke-width="1.1"/>
<line x1="291.4" y1="350.6" x2="309.1" y2="350.6" stroke="#333" stroke-width="0.9" stroke-dasharray="1 1"/>
<line x1="291.4" y1="349.2" x2="309.1" y2="349.2" stroke="#222" stroke-width="0.9"/>
<line x1="291.4" y1="341.3" x2="291.4" y2="352.3" stroke="#111" stroke-width="1"/>
<line x1="309.1" y1="341.3" x2="309.1" y2="352.3" stroke="#111" stroke-width="1"/>
<line x1="291.4" y1="341.3" x2="309.1" y2="341.3" stroke="#111" stroke-width="1"/>
<line x1="229.4" y1="341.3" x2="236.2" y2="341.3" stroke="#111" stroke-width="1"/>
<line x1="229.4" y1="330.3" x2="229.4" y2="341.3" stroke="#111" stroke-width="1"/>
<line x1="236.2" y1="341.3" x2="257.5" y2="341.3" stroke="#666" stroke-width="0.5"/>
<line x1="236.2" y1="349.6" x2="257.5" y2="349.6" stroke="#666" stroke-width="0.5"/>
<line x1="236.2" y1="351.9" x2="257.5" y2="351.9" stroke="#666" stroke-width="0.5"/>
<line x1="234.9" y1="354.5" x2="258.8" y2="354.5" stroke="#666" stroke-width="0.55"/>
<line x1="236.2" y1="347" x2="257.5" y2="347" stroke="#888" stroke-width="0.5"/>
<line x1="270.1" y1="341.3" x2="291.4" y2="341.3" stroke="#666" stroke-width="0.5"/>
<line x1="270.1" y1="349.6" x2="291.4" y2="349.6" stroke="#666" stroke-width="0.5"/>
<line x1="270.1" y1="351.9" x2="291.4" y2="351.9" stroke="#666" stroke-width="0.5"/>
<line x1="268.8" y1="354.5" x2="292.7" y2="354.5" stroke="#666" stroke-width="0.55"/>
<line x1="270.1" y1="347" x2="291.4" y2="347" stroke="#888" stroke-width="0.5"/>
<rect x="298.7" y="334" width="30" height="10" fill="url(#hw)"/>
<path d="M291.4 341.3 L298.7 341.3 L298.7 330.3" fill="none" stroke="#111" stroke-width="1"/>
<path d="M305.3 334 L328.7 334 L328.7 344.4 L309.1 344.4 L309.1 352.3" fill="none" stroke="#111" stroke-width="1"/>
<line x1="309.1" y1="343.3" x2="328.7" y2="343.3" stroke="#777" stroke-width="0.8" stroke-dasharray="1 1"/>
<line x1="328.7" y1="334.5" x2="465.5" y2="334.5" stroke="#444" stroke-width="0.6"/>
<line x1="328.7" y1="336.8" x2="465.5" y2="336.8" stroke="#777" stroke-width="0.5"/>
<line x1="328.7" y1="341.8" x2="465.5" y2="341.8" stroke="#333" stroke-width="0.9"/>
<line x1="328.7" y1="344.3" x2="465.5" y2="344.3" stroke="#444" stroke-width="0.6"/>
<rect x="344" y="334.5" width="12.6" height="9.8" fill="#fff"/>
<rect x="344" y="334.5" width="12.6" height="9.8" fill="url(#hw)"/>
<rect x="344" y="334.5" width="12.6" height="9.8" fill="none" stroke="#111" stroke-width="1.1"/>
<path d="M346.7 344.3 A3.6 3.6 0 0 0 353.9 344.3" fill="none" stroke="#111" stroke-width="1.5"/>
<path d="M348.3 344.3 A2 2 0 0 0 352.3 344.3" fill="none" stroke="#333" stroke-width="0.6"/>
<line x1="344" y1="341.8" x2="356.6" y2="341.8" stroke="#333" stroke-width="0.9"/>
<rect x="376.7" y="334.5" width="12.6" height="9.8" fill="#fff"/>
<rect x="376.7" y="334.5" width="12.6" height="9.8" fill="url(#hw)"/>
<rect x="376.7" y="334.5" width="12.6" height="9.8" fill="none" stroke="#111" stroke-width="1.1"/>
<path d="M379.4 344.3 A3.6 3.6 0 0 0 386.6 344.3" fill="none" stroke="#111" stroke-width="1.5"/>
<path d="M381 344.3 A2 2 0 0 0 385 344.3" fill="none" stroke="#333" stroke-width="0.6"/>
<line x1="376.7" y1="341.8" x2="389.3" y2="341.8" stroke="#333" stroke-width="0.9"/>
<rect x="404.9" y="334.5" width="12.6" height="9.8" fill="#fff"/>
<rect x="404.9" y="334.5" width="12.6" height="9.8" fill="url(#hw)"/>
<rect x="404.9" y="334.5" width="12.6" height="9.8" fill="none" stroke="#111" stroke-width="1.1"/>
<path d="M407.6 344.3 A3.6 3.6 0 0 0 414.8 344.3" fill="none" stroke="#111" stroke-width="1.5"/>
<path d="M409.2 344.3 A2 2 0 0 0 413.2 344.3" fill="none" stroke="#333" stroke-width="0.6"/>
<line x1="404.9" y1="341.8" x2="417.5" y2="341.8" stroke="#333" stroke-width="0.9"/>
<rect x="437.6" y="334.5" width="12.6" height="9.8" fill="#fff"/>
<rect x="437.6" y="334.5" width="12.6" height="9.8" fill="url(#hw)"/>
<rect x="437.6" y="334.5" width="12.6" height="9.8" fill="none" stroke="#111" stroke-width="1.1"/>
<path d="M440.3 344.3 A3.6 3.6 0 0 0 447.5 344.3" fill="none" stroke="#111" stroke-width="1.5"/>
<path d="M441.9 344.3 A2 2 0 0 0 445.9 344.3" fill="none" stroke="#333" stroke-width="0.6"/>
<line x1="437.6" y1="341.8" x2="450.2" y2="341.8" stroke="#333" stroke-width="0.9"/>
<rect x="465.5" y="334.5" width="21" height="9.8" fill="url(#hw)"/>
<path d="M465.5 334.5 L465.5 344.3 L484.5 344.3 L484.5 352.3 L504.5 352.3" fill="none" stroke="#111" stroke-width="1.1"/>
<rect x="484.5" y="341.3" width="20" height="7.9" fill="url(#hw)"/>
<line x1="484.5" y1="350.6" x2="504.5" y2="350.6" stroke="#333" stroke-width="0.9" stroke-dasharray="1 1"/>
<line x1="484.5" y1="349.2" x2="504.5" y2="349.2" stroke="#222" stroke-width="0.9"/>
<path d="M465.5 334.5 L487.3 334.5" fill="none" stroke="#111" stroke-width="1"/>
<line x1="504.5" y1="341.3" x2="504.5" y2="352.3" stroke="#111" stroke-width="1"/>
<line x1="495" y1="341.3" x2="504.5" y2="341.3" stroke="#111" stroke-width="1"/>
<rect x="558.2" y="342" width="14.2" height="7.2" fill="url(#hw)"/>
<path d="M558.2 352.3 L558.2 342 L564.4 342" fill="none" stroke="#111" stroke-width="1"/>
<line x1="558.2" y1="351.9" x2="575" y2="351.9" stroke="#111" stroke-width="1.1"/>
<line x1="558.2" y1="350.6" x2="575" y2="350.6" stroke="#333" stroke-width="0.9" stroke-dasharray="1 1"/>
<line x1="558.2" y1="349.2" x2="572.3" y2="349.2" stroke="#222" stroke-width="0.9"/>
<line x1="504.5" y1="347.3" x2="558.2" y2="347.3" stroke="#666" stroke-width="0.5"/>
<line x1="504.5" y1="350.2" x2="558.2" y2="350.2" stroke="#444" stroke-width="0.8"/>
<line x1="504.5" y1="352" x2="558.2" y2="352" stroke="#666" stroke-width="0.5"/>
<rect x="575" y="217.6" width="112.6" height="4.8" fill="url(#hl)"/>
<line x1="575" y1="217.7" x2="687.6" y2="217.7" stroke="#333" stroke-width="0.8"/>
<line x1="575" y1="222.4" x2="687.6" y2="222.4" stroke="#333" stroke-width="0.8"/>
<line x1="575" y1="212.8" x2="575" y2="217.6" stroke="#111" stroke-width="1.2"/>
<rect x="687.6" y="212.3" width="7.5" height="10.3" fill="#fff"/>
<rect x="687.6" y="212.3" width="7.5" height="10.3" fill="url(#hc)"/>
<rect x="687.6" y="212.3" width="7.5" height="10.3" fill="none" stroke="#222" stroke-width="0.8"/>
<rect x="687.6" y="252.9" width="7.5" height="10.3" fill="#fff"/>
<rect x="687.6" y="252.9" width="7.5" height="10.3" fill="url(#hc)"/>
<rect x="687.6" y="252.9" width="7.5" height="10.3" fill="none" stroke="#222" stroke-width="0.8"/>
<rect x="687.6" y="294.1" width="7.5" height="10.3" fill="#fff"/>
<rect x="687.6" y="294.1" width="7.5" height="10.3" fill="url(#hc)"/>
<rect x="687.6" y="294.1" width="7.5" height="10.3" fill="none" stroke="#222" stroke-width="0.8"/>
<rect x="687.6" y="335.1" width="7.5" height="10.3" fill="#fff"/>
<rect x="687.6" y="335.1" width="7.5" height="10.3" fill="url(#hc)"/>
<rect x="687.6" y="335.1" width="7.5" height="10.3" fill="none" stroke="#222" stroke-width="0.8"/>
<rect x="626.2" y="335.1" width="10.4" height="10.3" fill="#fff"/>
<rect x="626.2" y="335.1" width="10.4" height="10.3" fill="url(#hc)"/>
<rect x="626.2" y="335.1" width="10.4" height="10.3" fill="none" stroke="#222" stroke-width="0.8"/>
<line x1="687.9" y1="222.6" x2="687.9" y2="335" stroke="#555" stroke-width="0.6"/>
<line x1="693.5" y1="222.6" x2="693.5" y2="335" stroke="#777" stroke-width="0.5"/>
</g>
<g id="dims">
<line x1="215.6" y1="183.1" x2="698.2" y2="183.1" stroke="#4a4a4a" stroke-width="0.55"/>
<line x1="216.9" y1="184.8" x2="220.3" y2="181.4" stroke="#222" stroke-width="0.9"/>
<line x1="331.6" y1="184.8" x2="335" y2="181.4" stroke="#222" stroke-width="0.9"/>
<line x1="353" y1="184.8" x2="356.4" y2="181.4" stroke="#222" stroke-width="0.9"/>
<line x1="383" y1="184.8" x2="386.4" y2="181.4" stroke="#222" stroke-width="0.9"/>
<line x1="404.4" y1="184.8" x2="407.8" y2="181.4" stroke="#222" stroke-width="0.9"/>
<line x1="434.9" y1="184.8" x2="438.3" y2="181.4" stroke="#222" stroke-width="0.9"/>
<line x1="456.6" y1="184.8" x2="460" y2="181.4" stroke="#222" stroke-width="0.9"/>
<line x1="573.5" y1="184.8" x2="576.9" y2="181.4" stroke="#222" stroke-width="0.9"/>
<line x1="685.9" y1="184.8" x2="689.3" y2="181.4" stroke="#222" stroke-width="0.9"/>
<line x1="693.5" y1="184.8" x2="696.9" y2="181.4" stroke="#222" stroke-width="0.9"/>
<text x="275.95" y="181.6" font-size="4.8" text-anchor="middle" fill="#222">5 840</text>
<text x="344" y="181.6" font-size="4.8" text-anchor="middle" fill="#222">1 080</text>
<text x="369.7" y="181.6" font-size="4.8" text-anchor="middle" fill="#222">1 550</text>
<text x="395.4" y="181.6" font-size="4.8" text-anchor="middle" fill="#222">1 080</text>
<text x="421.35" y="181.6" font-size="4.8" text-anchor="middle" fill="#222">1 550</text>
<text x="447.45" y="181.6" font-size="4.8" text-anchor="middle" fill="#222">1 080</text>
<text x="516.75" y="181.6" font-size="4.8" text-anchor="middle" fill="#222">5 940</text>
<text x="631.4" y="181.6" font-size="4.8" text-anchor="middle" fill="#222">5 730</text>
<text x="683.5" y="181.6" font-size="4.8" text-anchor="middle" fill="#222">380</text>
<line x1="218.6" y1="180" x2="218.6" y2="207" stroke="#4a4a4a" stroke-width="0.5"/>
<line x1="333.3" y1="180" x2="333.3" y2="208.5" stroke="#4a4a4a" stroke-width="0.5"/>
<line x1="354.7" y1="180" x2="354.7" y2="208.5" stroke="#4a4a4a" stroke-width="0.5"/>
<line x1="384.7" y1="180" x2="384.7" y2="208.5" stroke="#4a4a4a" stroke-width="0.5"/>
<line x1="406.1" y1="180" x2="406.1" y2="208.5" stroke="#4a4a4a" stroke-width="0.5"/>
<line x1="436.6" y1="180" x2="436.6" y2="208.5" stroke="#4a4a4a" stroke-width="0.5"/>
<line x1="458.3" y1="180" x2="458.3" y2="208.5" stroke="#4a4a4a" stroke-width="0.5"/>
<line x1="575.2" y1="180" x2="575.2" y2="207" stroke="#4a4a4a" stroke-width="0.5"/>
<line x1="687.6" y1="180" x2="687.6" y2="207" stroke="#4a4a4a" stroke-width="0.5"/>
<line x1="695.2" y1="180" x2="695.2" y2="207" stroke="#4a4a4a" stroke-width="0.5"/>
<text x="344" y="206" font-size="5" text-anchor="middle" fill="#333">ОК 5</text>
<text x="395.4" y="206" font-size="5" text-anchor="middle" fill="#333">ОК 4</text>
<text x="447.5" y="206" font-size="5" text-anchor="middle" fill="#333">ОК 2</text>
<line x1="158.7" y1="217.4" x2="158.7" y2="347.6" stroke="#4a4a4a" stroke-width="0.55"/>
<line x1="157" y1="222.1" x2="160.4" y2="218.7" stroke="#222" stroke-width="0.9"/>
<line x1="157" y1="346.3" x2="160.4" y2="342.9" stroke="#222" stroke-width="0.9"/>
<text x="157.2" y="282.5" font-size="4.8" text-anchor="middle" transform="rotate(-90 157.2 282.5)" fill="#222">6 300</text>
<line x1="174.2" y1="217.4" x2="174.2" y2="347.6" stroke="#4a4a4a" stroke-width="0.55"/>
<line x1="172.5" y1="222.1" x2="175.9" y2="218.7" stroke="#222" stroke-width="0.9"/>
<line x1="172.5" y1="340.3" x2="175.9" y2="336.9" stroke="#222" stroke-width="0.9"/>
<line x1="172.5" y1="346.3" x2="175.9" y2="342.9" stroke="#222" stroke-width="0.9"/>
<text x="172.7" y="279.5" font-size="4.8" text-anchor="middle" transform="rotate(-90 172.7 279.5)" fill="#222">6 000</text>
<text x="172.7" y="333.5" font-size="3.8" text-anchor="middle" transform="rotate(-90 172.7 333.5)" fill="#222">300</text>
<line x1="190.7" y1="209.8" x2="190.7" y2="355.3" stroke="#4a4a4a" stroke-width="0.55"/>
<line x1="189" y1="214.5" x2="192.4" y2="211.1" stroke="#222" stroke-width="0.9"/>
<line x1="189" y1="237.1" x2="192.4" y2="233.7" stroke="#222" stroke-width="0.9"/>
<line x1="189" y1="258.4" x2="192.4" y2="255" stroke="#222" stroke-width="0.9"/>
<line x1="189" y1="310.3" x2="192.4" y2="306.9" stroke="#222" stroke-width="0.9"/>
<line x1="189" y1="331.6" x2="192.4" y2="328.2" stroke="#222" stroke-width="0.9"/>
<line x1="189" y1="354" x2="192.4" y2="350.6" stroke="#222" stroke-width="0.9"/>
<text x="189.2" y="224.1" font-size="4.8" text-anchor="middle" transform="rotate(-90 189.2 224.1)" fill="#222">1 160</text>
<text x="189.2" y="246.05" font-size="4.8" text-anchor="middle" transform="rotate(-90 189.2 246.05)" fill="#222">1 080</text>
<text x="189.2" y="282.65" font-size="4.8" text-anchor="middle" transform="rotate(-90 189.2 282.65)" fill="#222">2 630</text>
<text x="189.2" y="319.25" font-size="4.8" text-anchor="middle" transform="rotate(-90 189.2 319.25)" fill="#222">1 080</text>
<text x="189.2" y="341.1" font-size="4.8" text-anchor="middle" transform="rotate(-90 189.2 341.1)" fill="#222">1 140</text>
<line x1="188" y1="212.8" x2="215.5" y2="212.8" stroke="#4a4a4a" stroke-width="0.5"/>
<line x1="188" y1="235.4" x2="212.5" y2="235.4" stroke="#4a4a4a" stroke-width="0.5"/>
<line x1="188" y1="256.7" x2="212.5" y2="256.7" stroke="#4a4a4a" stroke-width="0.5"/>
<line x1="188" y1="308.6" x2="212.5" y2="308.6" stroke="#4a4a4a" stroke-width="0.5"/>
<line x1="188" y1="329.9" x2="212.5" y2="329.9" stroke="#4a4a4a" stroke-width="0.5"/>
<line x1="188" y1="352.3" x2="215.5" y2="352.3" stroke="#4a4a4a" stroke-width="0.5"/>
<text x="212.3" y="246" font-size="5" text-anchor="middle" transform="rotate(-90 212.3 246)" fill="#333">ОК 4</text>
<text x="212.3" y="319.3" font-size="5" text-anchor="middle" transform="rotate(-90 212.3 319.3)" fill="#333">ОК 5</text>
<line x1="215.6" y1="381.6" x2="698.1" y2="381.6" stroke="#4a4a4a" stroke-width="0.55"/>
<line x1="216.9" y1="383.3" x2="220.3" y2="379.9" stroke="#222" stroke-width="0.9"/>
<line x1="234.5" y1="383.3" x2="237.9" y2="379.9" stroke="#222" stroke-width="0.9"/>
<line x1="255.8" y1="383.3" x2="259.2" y2="379.9" stroke="#222" stroke-width="0.9"/>
<line x1="268.4" y1="383.3" x2="271.8" y2="379.9" stroke="#222" stroke-width="0.9"/>
<line x1="289.7" y1="383.3" x2="293.1" y2="379.9" stroke="#222" stroke-width="0.9"/>
<line x1="307.4" y1="383.3" x2="310.8" y2="379.9" stroke="#222" stroke-width="0.9"/>
<line x1="326.7" y1="383.3" x2="330.1" y2="379.9" stroke="#222" stroke-width="0.9"/>
<line x1="342.3" y1="383.3" x2="345.7" y2="379.9" stroke="#222" stroke-width="0.9"/>
<line x1="354.9" y1="383.3" x2="358.3" y2="379.9" stroke="#222" stroke-width="0.9"/>
<line x1="375" y1="383.3" x2="378.4" y2="379.9" stroke="#222" stroke-width="0.9"/>
<line x1="387.6" y1="383.3" x2="391" y2="379.9" stroke="#222" stroke-width="0.9"/>
<line x1="403.2" y1="383.3" x2="406.6" y2="379.9" stroke="#222" stroke-width="0.9"/>
<line x1="415.8" y1="383.3" x2="419.2" y2="379.9" stroke="#222" stroke-width="0.9"/>
<line x1="435.9" y1="383.3" x2="439.3" y2="379.9" stroke="#222" stroke-width="0.9"/>
<line x1="448.5" y1="383.3" x2="451.9" y2="379.9" stroke="#222" stroke-width="0.9"/>
<line x1="464.1" y1="383.3" x2="467.5" y2="379.9" stroke="#222" stroke-width="0.9"/>
<line x1="483.2" y1="383.3" x2="486.6" y2="379.9" stroke="#222" stroke-width="0.9"/>
<line x1="504.5" y1="383.3" x2="507.9" y2="379.9" stroke="#222" stroke-width="0.9"/>
<line x1="556.1" y1="383.3" x2="559.5" y2="379.9" stroke="#222" stroke-width="0.9"/>
<line x1="573.8" y1="383.3" x2="577.2" y2="379.9" stroke="#222" stroke-width="0.9"/>
<line x1="625.2" y1="383.3" x2="628.6" y2="379.9" stroke="#222" stroke-width="0.9"/>
<line x1="635.3" y1="383.3" x2="638.7" y2="379.9" stroke="#222" stroke-width="0.9"/>
<line x1="686.1" y1="383.3" x2="689.5" y2="379.9" stroke="#222" stroke-width="0.9"/>
<line x1="693.4" y1="383.3" x2="696.8" y2="379.9" stroke="#222" stroke-width="0.9"/>
<text x="227.4" y="380.1" font-size="4.5" text-anchor="middle" fill="#222">900</text>
<text x="246.85" y="380.1" font-size="4.5" text-anchor="middle" fill="#222">1 080</text>
<text x="263.8" y="380.1" font-size="4.5" text-anchor="middle" fill="#222">640</text>
<text x="280.75" y="380.1" font-size="4.5" text-anchor="middle" fill="#222">1 080</text>
<text x="300.25" y="380.1" font-size="4.5" text-anchor="middle" fill="#222">900</text>
<text x="318.75" y="380.1" font-size="4.5" text-anchor="middle" fill="#222">980</text>
<text x="336.2" y="380.1" font-size="4.5" text-anchor="middle" fill="#222">790</text>
<text x="350.3" y="380.1" font-size="4.5" text-anchor="middle" fill="#222">640</text>
<text x="366.65" y="380.1" font-size="4.5" text-anchor="middle" fill="#222">1 020</text>
<text x="383" y="380.1" font-size="4.5" text-anchor="middle" fill="#222">640</text>
<text x="397.1" y="380.1" font-size="4.5" text-anchor="middle" fill="#222">790</text>
<text x="411.2" y="380.1" font-size="4.5" text-anchor="middle" fill="#222">640</text>
<text x="427.55" y="380.1" font-size="4.5" text-anchor="middle" fill="#222">1 020</text>
<text x="443.9" y="380.1" font-size="4.5" text-anchor="middle" fill="#222">640</text>
<text x="458" y="380.1" font-size="4.5" text-anchor="middle" fill="#222">790</text>
<text x="475.35" y="380.1" font-size="4.5" text-anchor="middle" fill="#222">970</text>
<text x="495.55" y="380.1" font-size="4.5" text-anchor="middle" fill="#222">1 080</text>
<text x="532" y="380.1" font-size="4.5" text-anchor="middle" fill="#222">2 620</text>
<text x="566.65" y="380.1" font-size="4.5" text-anchor="middle" fill="#222">900</text>
<text x="601.2" y="380.1" font-size="4.5" text-anchor="middle" fill="#222">2 610</text>
<text x="631.95" y="380.1" font-size="4.5" text-anchor="middle" fill="#222">510</text>
<text x="662.4" y="380.1" font-size="4.5" text-anchor="middle" fill="#222">2 610</text>
<text x="682.6" y="380.1" font-size="4.3" text-anchor="middle" fill="#222">380</text>
<line x1="218.6" y1="356" x2="218.6" y2="384" stroke="#4a4a4a" stroke-width="0.5"/>
<line x1="236.2" y1="356" x2="236.2" y2="384" stroke="#4a4a4a" stroke-width="0.5"/>
<line x1="257.5" y1="356" x2="257.5" y2="384" stroke="#4a4a4a" stroke-width="0.5"/>
<line x1="270.1" y1="356" x2="270.1" y2="384" stroke="#4a4a4a" stroke-width="0.5"/>
<line x1="291.4" y1="356" x2="291.4" y2="384" stroke="#4a4a4a" stroke-width="0.5"/>
<line x1="309.1" y1="356" x2="309.1" y2="384" stroke="#4a4a4a" stroke-width="0.5"/>
<line x1="328.4" y1="349.5" x2="328.4" y2="384" stroke="#4a4a4a" stroke-width="0.5"/>
<line x1="344" y1="349.5" x2="344" y2="384" stroke="#4a4a4a" stroke-width="0.5"/>
<line x1="356.6" y1="349.5" x2="356.6" y2="384" stroke="#4a4a4a" stroke-width="0.5"/>
<line x1="376.7" y1="349.5" x2="376.7" y2="384" stroke="#4a4a4a" stroke-width="0.5"/>
<line x1="389.3" y1="349.5" x2="389.3" y2="384" stroke="#4a4a4a" stroke-width="0.5"/>
<line x1="404.9" y1="349.5" x2="404.9" y2="384" stroke="#4a4a4a" stroke-width="0.5"/>
<line x1="417.5" y1="349.5" x2="417.5" y2="384" stroke="#4a4a4a" stroke-width="0.5"/>
<line x1="437.6" y1="349.5" x2="437.6" y2="384" stroke="#4a4a4a" stroke-width="0.5"/>
<line x1="450.2" y1="349.5" x2="450.2" y2="384" stroke="#4a4a4a" stroke-width="0.5"/>
<line x1="465.8" y1="349.5" x2="465.8" y2="384" stroke="#4a4a4a" stroke-width="0.5"/>
<line x1="484.9" y1="356" x2="484.9" y2="384" stroke="#4a4a4a" stroke-width="0.5"/>
<line x1="506.2" y1="356" x2="506.2" y2="384" stroke="#4a4a4a" stroke-width="0.5"/>
<line x1="557.8" y1="356" x2="557.8" y2="384" stroke="#4a4a4a" stroke-width="0.5"/>
<line x1="575.5" y1="356" x2="575.5" y2="384" stroke="#4a4a4a" stroke-width="0.5"/>
<line x1="626.9" y1="347" x2="626.9" y2="384" stroke="#4a4a4a" stroke-width="0.5"/>
<line x1="637" y1="347" x2="637" y2="384" stroke="#4a4a4a" stroke-width="0.5"/>
<line x1="687.8" y1="347" x2="687.8" y2="384" stroke="#4a4a4a" stroke-width="0.5"/>
<line x1="695.1" y1="347" x2="695.1" y2="384" stroke="#4a4a4a" stroke-width="0.5"/>
<line x1="222.4" y1="397.2" x2="694.7" y2="397.2" stroke="#4a4a4a" stroke-width="0.55"/>
<line x1="223.7" y1="398.9" x2="227.1" y2="395.5" stroke="#222" stroke-width="0.9"/>
<line x1="300.5" y1="398.9" x2="303.9" y2="395.5" stroke="#222" stroke-width="0.9"/>
<line x1="489.6" y1="398.9" x2="493" y2="395.5" stroke="#222" stroke-width="0.9"/>
<line x1="566.2" y1="398.9" x2="569.6" y2="395.5" stroke="#222" stroke-width="0.9"/>
<line x1="690" y1="398.9" x2="693.4" y2="395.5" stroke="#222" stroke-width="0.9"/>
<text x="263.8" y="395.7" font-size="4.8" text-anchor="middle" fill="#222">3 900</text>
<text x="396.75" y="395.7" font-size="4.8" text-anchor="middle" fill="#222">9 600</text>
<text x="529.6" y="395.7" font-size="4.8" text-anchor="middle" fill="#222">3 900</text>
<text x="629.8" y="395.7" font-size="4.8" text-anchor="middle" fill="#222">6 300</text>
<line x1="222.4" y1="413.4" x2="694.7" y2="413.4" stroke="#4a4a4a" stroke-width="0.55"/>
<line x1="223.7" y1="415.1" x2="227.1" y2="411.7" stroke="#222" stroke-width="0.9"/>
<line x1="690" y1="415.1" x2="693.4" y2="411.7" stroke="#222" stroke-width="0.9"/>
<text x="459" y="411.9" font-size="4.8" text-anchor="middle" fill="#222">23 700</text>
<text x="247" y="362.3" font-size="5" text-anchor="middle" fill="#333">ОК 4</text>
<text x="281.5" y="362.3" font-size="5" text-anchor="middle" fill="#333">ОК 5</text>
<text x="336" y="354.8" font-size="4.9" text-anchor="middle" fill="#333">ОК 1</text>
<text x="397" y="354.8" font-size="4.9" text-anchor="middle" fill="#333">ОК 1</text>
<text x="457.8" y="354.8" font-size="4.9" text-anchor="middle" fill="#333">ОК 1</text>
<line x1="351" y1="371.6" x2="442.4" y2="371.6" stroke="#4a4a4a" stroke-width="0.55"/>
<line x1="349.3" y1="373.3" x2="352.7" y2="369.9" stroke="#222" stroke-width="0.9"/>
<line x1="379.5" y1="373.3" x2="382.9" y2="369.9" stroke="#222" stroke-width="0.9"/>
<line x1="410.7" y1="373.3" x2="414.1" y2="369.9" stroke="#222" stroke-width="0.9"/>
<line x1="440.7" y1="373.3" x2="444.1" y2="369.9" stroke="#222" stroke-width="0.9"/>
<text x="366.1" y="370.1" font-size="4.5" text-anchor="middle" fill="#222">1 500</text>
<text x="396.8" y="370.1" font-size="4.5" text-anchor="middle" fill="#222">1 590</text>
<text x="427.4" y="370.1" font-size="4.5" text-anchor="middle" fill="#222">1 500</text>
<line x1="351" y1="349" x2="351" y2="374" stroke="#4a4a4a" stroke-width="0.5"/>
<line x1="381.2" y1="349" x2="381.2" y2="374" stroke="#4a4a4a" stroke-width="0.5"/>
<line x1="412.4" y1="349" x2="412.4" y2="374" stroke="#4a4a4a" stroke-width="0.5"/>
<line x1="442.4" y1="349" x2="442.4" y2="374" stroke="#4a4a4a" stroke-width="0.5"/>
<path d="M352 349 L352 364.2 L381 364.2" fill="none" stroke="#222" stroke-width="0.7"/>
<path d="M412.4 349 L412.4 364.2 L435.6 364.2 L435.6 349" fill="none" stroke="#222" stroke-width="0.7"/>
<text x="361" y="354" font-size="3.8" text-anchor="middle" transform="rotate(-90 361 354)" fill="#222">150</text>
<text x="434" y="355" font-size="3.8" text-anchor="middle" transform="rotate(-90 434 355)" fill="#222">1 000</text>
<line x1="603" y1="209.8" x2="603" y2="355.3" stroke="#4a4a4a" stroke-width="0.55"/>
<line x1="601.3" y1="214.5" x2="604.7" y2="211.1" stroke="#222" stroke-width="0.9"/>
<line x1="601.3" y1="221.4" x2="604.7" y2="218" stroke="#222" stroke-width="0.9"/>
<line x1="601.3" y1="224.3" x2="604.7" y2="220.9" stroke="#222" stroke-width="0.9"/>
<line x1="601.3" y1="232.2" x2="604.7" y2="228.8" stroke="#222" stroke-width="0.9"/>
<line x1="601.3" y1="253.5" x2="604.7" y2="250.1" stroke="#222" stroke-width="0.9"/>
<line x1="601.3" y1="271.2" x2="604.7" y2="267.8" stroke="#222" stroke-width="0.9"/>
<line x1="601.3" y1="292.5" x2="604.7" y2="289.1" stroke="#222" stroke-width="0.9"/>
<line x1="601.3" y1="310.2" x2="604.7" y2="306.8" stroke="#222" stroke-width="0.9"/>
<line x1="601.3" y1="331.5" x2="604.7" y2="328.1" stroke="#222" stroke-width="0.9"/>
<line x1="601.3" y1="354" x2="604.7" y2="350.6" stroke="#222" stroke-width="0.9"/>
<text x="601.5" y="241.15" font-size="4.5" text-anchor="middle" transform="rotate(-90 601.5 241.15)" fill="#222">1 080</text>
<text x="601.5" y="260.65" font-size="4.5" text-anchor="middle" transform="rotate(-90 601.5 260.65)" fill="#222">900</text>
<text x="601.5" y="280.15" font-size="4.5" text-anchor="middle" transform="rotate(-90 601.5 280.15)" fill="#222">1 080</text>
<text x="601.5" y="299.65" font-size="4.5" text-anchor="middle" transform="rotate(-90 601.5 299.65)" fill="#222">900</text>
<text x="601.5" y="319.15" font-size="4.5" text-anchor="middle" transform="rotate(-90 601.5 319.15)" fill="#222">1 080</text>
<text x="601.5" y="341.05" font-size="4.5" text-anchor="middle" transform="rotate(-90 601.5 341.05)" fill="#222">1 160</text>
<text x="601.5" y="216" font-size="3.6" text-anchor="middle" transform="rotate(-90 601.5 216)" fill="#222">360</text>
<text x="601.5" y="227" font-size="3.6" text-anchor="middle" transform="rotate(-90 601.5 227)" fill="#222">400</text>
<line x1="580" y1="212.8" x2="606" y2="212.8" stroke="#4a4a4a" stroke-width="0.5"/>
<line x1="580" y1="230.5" x2="606" y2="230.5" stroke="#4a4a4a" stroke-width="0.5"/>
<line x1="580" y1="251.8" x2="606" y2="251.8" stroke="#4a4a4a" stroke-width="0.5"/>
<line x1="580" y1="269.5" x2="606" y2="269.5" stroke="#4a4a4a" stroke-width="0.5"/>
<line x1="580" y1="290.8" x2="606" y2="290.8" stroke="#4a4a4a" stroke-width="0.5"/>
<line x1="580" y1="308.5" x2="606" y2="308.5" stroke="#4a4a4a" stroke-width="0.5"/>
<line x1="580" y1="329.8" x2="606" y2="329.8" stroke="#4a4a4a" stroke-width="0.5"/>
<line x1="580" y1="352.3" x2="606" y2="352.3" stroke="#4a4a4a" stroke-width="0.5"/>
<text x="585.3" y="241" font-size="5.2" text-anchor="middle" transform="rotate(-90 585.3 241)" fill="#333">ОК 2</text>
<text x="585.3" y="280" font-size="5.2" text-anchor="middle" transform="rotate(-90 585.3 280)" fill="#333">ОК 3</text>
<text x="585.3" y="319" font-size="5.2" text-anchor="middle" transform="rotate(-90 585.3 319)" fill="#333">ОК 2</text>
<line x1="725" y1="209.3" x2="725" y2="348.4" stroke="#4a4a4a" stroke-width="0.55"/>
<line x1="723.3" y1="214" x2="726.7" y2="210.6" stroke="#222" stroke-width="0.9"/>
<line x1="723.3" y1="224.3" x2="726.7" y2="220.9" stroke="#222" stroke-width="0.9"/>
<line x1="723.3" y1="254.6" x2="726.7" y2="251.2" stroke="#222" stroke-width="0.9"/>
<line x1="723.3" y1="264.9" x2="726.7" y2="261.5" stroke="#222" stroke-width="0.9"/>
<line x1="723.3" y1="295.8" x2="726.7" y2="292.4" stroke="#222" stroke-width="0.9"/>
<line x1="723.3" y1="306.1" x2="726.7" y2="302.7" stroke="#222" stroke-width="0.9"/>
<line x1="723.3" y1="336.8" x2="726.7" y2="333.4" stroke="#222" stroke-width="0.9"/>
<line x1="723.3" y1="347.1" x2="726.7" y2="343.7" stroke="#222" stroke-width="0.9"/>
<text x="723.5" y="217.45" font-size="4.5" text-anchor="middle" transform="rotate(-90 723.5 217.45)" fill="#222">510</text>
<text x="723.5" y="237.75" font-size="4.5" text-anchor="middle" transform="rotate(-90 723.5 237.75)" fill="#222">1 570</text>
<text x="723.5" y="258.05" font-size="4.5" text-anchor="middle" transform="rotate(-90 723.5 258.05)" fill="#222">510</text>
<text x="723.5" y="278.65" font-size="4.5" text-anchor="middle" transform="rotate(-90 723.5 278.65)" fill="#222">1 570</text>
<text x="723.5" y="299.25" font-size="4.5" text-anchor="middle" transform="rotate(-90 723.5 299.25)" fill="#222">510</text>
<text x="723.5" y="319.75" font-size="4.5" text-anchor="middle" transform="rotate(-90 723.5 319.75)" fill="#222">1 570</text>
<text x="723.5" y="340.25" font-size="4.5" text-anchor="middle" transform="rotate(-90 723.5 340.25)" fill="#222">510</text>
<line x1="700" y1="212.3" x2="728" y2="212.3" stroke="#4a4a4a" stroke-width="0.5"/>
<line x1="700" y1="222.6" x2="728" y2="222.6" stroke="#4a4a4a" stroke-width="0.5"/>
<line x1="700" y1="252.9" x2="728" y2="252.9" stroke="#4a4a4a" stroke-width="0.5"/>
<line x1="700" y1="263.2" x2="728" y2="263.2" stroke="#4a4a4a" stroke-width="0.5"/>
<line x1="700" y1="294.1" x2="728" y2="294.1" stroke="#4a4a4a" stroke-width="0.5"/>
<line x1="700" y1="304.4" x2="728" y2="304.4" stroke="#4a4a4a" stroke-width="0.5"/>
<line x1="700" y1="335.1" x2="728" y2="335.1" stroke="#4a4a4a" stroke-width="0.5"/>
<line x1="700" y1="345.4" x2="728" y2="345.4" stroke="#4a4a4a" stroke-width="0.5"/>
<line x1="229.4" y1="230.8" x2="687.6" y2="230.8" stroke="#4a4a4a" stroke-width="0.5"/>
<line x1="227.9" y1="232.3" x2="230.9" y2="229.3" stroke="#222" stroke-width="0.8"/>
<line x1="297.2" y1="232.3" x2="300.2" y2="229.3" stroke="#222" stroke-width="0.8"/>
<line x1="301.8" y1="232.3" x2="304.8" y2="229.3" stroke="#222" stroke-width="0.8"/>
<line x1="412.1" y1="232.3" x2="415.1" y2="229.3" stroke="#222" stroke-width="0.8"/>
<line x1="414.9" y1="232.3" x2="417.9" y2="229.3" stroke="#222" stroke-width="0.8"/>
<line x1="489" y1="232.3" x2="492" y2="229.3" stroke="#222" stroke-width="0.8"/>
<line x1="493.5" y1="232.3" x2="496.5" y2="229.3" stroke="#222" stroke-width="0.8"/>
<line x1="562.9" y1="232.3" x2="565.9" y2="229.3" stroke="#222" stroke-width="0.8"/>
<line x1="573.5" y1="232.3" x2="576.5" y2="229.3" stroke="#222" stroke-width="0.8"/>
<line x1="686.1" y1="232.3" x2="689.1" y2="229.3" stroke="#222" stroke-width="0.8"/>
<text x="222" y="229.6" font-size="4.5" text-anchor="middle" fill="#222">360</text>
<text x="234.5" y="229.6" font-size="4.5" text-anchor="middle" fill="#222">580</text>
<text x="262" y="229.6" font-size="4.5" text-anchor="middle" fill="#222">3 520</text>
<text x="296" y="229.6" font-size="4.5" text-anchor="middle" fill="#222">250</text>
<text x="351.5" y="229.6" font-size="4.5" text-anchor="middle" fill="#222">5 600</text>
<text x="410" y="229.6" font-size="4.5" text-anchor="middle" fill="#222">120</text>
<text x="421" y="229.6" font-size="4.5" text-anchor="middle" fill="#222">150</text>
<text x="448" y="229.6" font-size="4.5" text-anchor="middle" fill="#222">3 730</text>
<text x="484" y="229.6" font-size="4.5" text-anchor="middle" fill="#222">250</text>
<text x="528" y="229.6" font-size="4.5" text-anchor="middle" fill="#222">5 530</text>
<text x="559" y="229.6" font-size="4.5" text-anchor="middle" fill="#222">180</text>
<text x="581" y="229.6" font-size="4.5" text-anchor="middle" fill="#222">140</text>
<text x="630" y="229.6" font-size="4.5" text-anchor="middle" fill="#222">5 730</text>
<text x="682" y="229.6" font-size="4.5" text-anchor="middle" fill="#222">210</text>
<line x1="274.3" y1="223.1" x2="274.3" y2="330.3" stroke="#4a4a4a" stroke-width="0.55"/>
<line x1="272.6" y1="224.8" x2="276" y2="221.4" stroke="#222" stroke-width="0.9"/>
<line x1="272.6" y1="332" x2="276" y2="328.6" stroke="#222" stroke-width="0.9"/>
<text x="272.8" y="283" font-size="4.5" text-anchor="middle" transform="rotate(-90 272.8 283)" fill="#222">6 010</text>
<line x1="274.3" y1="330.3" x2="274.3" y2="354" stroke="#4a4a4a" stroke-width="0.5"/>
<line x1="272.8" y1="342.8" x2="275.8" y2="339.8" stroke="#222" stroke-width="0.8"/>
<line x1="272.8" y1="353.8" x2="275.8" y2="350.8" stroke="#222" stroke-width="0.8"/>
<text x="272.8" y="217.5" font-size="3.6" text-anchor="middle" transform="rotate(-90 272.8 217.5)" fill="#222">390</text>
<line x1="274.3" y1="212.8" x2="274.3" y2="223.1" stroke="#4a4a4a" stroke-width="0.5"/>
<line x1="272.8" y1="214.3" x2="275.8" y2="211.3" stroke="#222" stroke-width="0.8"/>
<line x1="372.3" y1="223.1" x2="372.3" y2="330" stroke="#4a4a4a" stroke-width="0.55"/>
<line x1="370.6" y1="224.8" x2="374" y2="221.4" stroke="#222" stroke-width="0.9"/>
<line x1="370.6" y1="277.7" x2="374" y2="274.3" stroke="#222" stroke-width="0.9"/>
<line x1="370.6" y1="300.7" x2="374" y2="297.3" stroke="#222" stroke-width="0.9"/>
<line x1="370.6" y1="331.7" x2="374" y2="328.3" stroke="#222" stroke-width="0.9"/>
<text x="370.8" y="249.55" font-size="4.5" text-anchor="middle" transform="rotate(-90 370.8 249.55)" fill="#222">2 850</text>
<text x="370.8" y="314.5" font-size="4.5" text-anchor="middle" transform="rotate(-90 370.8 314.5)" fill="#222">1 510</text>
<line x1="336.3" y1="279" x2="336.3" y2="330" stroke="#4a4a4a" stroke-width="0.55"/>
<line x1="334.6" y1="280.7" x2="338" y2="277.3" stroke="#222" stroke-width="0.9"/>
<line x1="334.6" y1="300.7" x2="338" y2="297.3" stroke="#222" stroke-width="0.9"/>
<line x1="334.6" y1="331.7" x2="338" y2="328.3" stroke="#222" stroke-width="0.9"/>
<text x="334.8" y="289" font-size="4.5" text-anchor="middle" transform="rotate(-90 334.8 289)" fill="#222">1 100</text>
<text x="334.8" y="314" font-size="3.8" text-anchor="middle" transform="rotate(-90 334.8 314)" fill="#222">1 200</text>
<line x1="404.7" y1="279" x2="404.7" y2="334" stroke="#4a4a4a" stroke-width="0.55"/>
<line x1="403" y1="280.7" x2="406.4" y2="277.3" stroke="#222" stroke-width="0.9"/>
<line x1="403" y1="335.7" x2="406.4" y2="332.3" stroke="#222" stroke-width="0.9"/>
<text x="403.2" y="306.5" font-size="4.5" text-anchor="middle" transform="rotate(-90 403.2 306.5)" fill="#222">2 790</text>
<line x1="477.6" y1="223.1" x2="477.6" y2="334" stroke="#4a4a4a" stroke-width="0.55"/>
<line x1="475.9" y1="224.8" x2="479.3" y2="221.4" stroke="#222" stroke-width="0.9"/>
<line x1="475.9" y1="255.7" x2="479.3" y2="252.3" stroke="#222" stroke-width="0.9"/>
<line x1="475.9" y1="258.1" x2="479.3" y2="254.7" stroke="#222" stroke-width="0.9"/>
<line x1="475.9" y1="304.4" x2="479.3" y2="301" stroke="#222" stroke-width="0.9"/>
<line x1="475.9" y1="335.7" x2="479.3" y2="332.3" stroke="#222" stroke-width="0.9"/>
<text x="476.1" y="238.55" font-size="4.4" text-anchor="middle" transform="rotate(-90 476.1 238.55)" fill="#222">1 570</text>
<text x="476.1" y="279.55" font-size="4.4" text-anchor="middle" transform="rotate(-90 476.1 279.55)" fill="#222">2 270</text>
<text x="476.1" y="318.35" font-size="4.4" text-anchor="middle" transform="rotate(-90 476.1 318.35)" fill="#222">1 570</text>
<line x1="509" y1="223.1" x2="509" y2="270" stroke="#4a4a4a" stroke-width="0.55"/>
<line x1="507.3" y1="224.8" x2="510.7" y2="221.4" stroke="#222" stroke-width="0.9"/>
<line x1="507.3" y1="243.1" x2="510.7" y2="239.7" stroke="#222" stroke-width="0.9"/>
<line x1="507.3" y1="271.7" x2="510.7" y2="268.3" stroke="#222" stroke-width="0.9"/>
<text x="507.5" y="232.25" font-size="4.4" text-anchor="middle" transform="rotate(-90 507.5 232.25)" fill="#222">820</text>
<text x="507.5" y="255.7" font-size="4.4" text-anchor="middle" transform="rotate(-90 507.5 255.7)" fill="#222">1 440</text>
<line x1="646.4" y1="220.4" x2="646.4" y2="347.4" stroke="#4a4a4a" stroke-width="0.55"/>
<line x1="644.7" y1="224.1" x2="648.1" y2="220.7" stroke="#222" stroke-width="0.9"/>
<line x1="644.7" y1="336.8" x2="648.1" y2="333.4" stroke="#222" stroke-width="0.9"/>
<line x1="644.7" y1="347.1" x2="648.1" y2="343.7" stroke="#222" stroke-width="0.9"/>
<text x="644.9" y="278.75" font-size="4.5" text-anchor="middle" transform="rotate(-90 644.9 278.75)" fill="#222">5 730</text>
<text x="644.9" y="215" font-size="3.6" text-anchor="middle" transform="rotate(-90 644.9 215)" fill="#222">250</text>
<text x="644.9" y="330" font-size="3.6" text-anchor="middle" transform="rotate(-90 644.9 330)" fill="#222">250</text>
<line x1="646.4" y1="212" x2="646.4" y2="222.4" stroke="#4a4a4a" stroke-width="0.5"/>
<line x1="305.3" y1="329.3" x2="487" y2="329.3" stroke="#4a4a4a" stroke-width="0.5"/>
<line x1="303.9" y1="330.7" x2="306.7" y2="327.9" stroke="#222" stroke-width="0.8"/>
<line x1="327.3" y1="330.7" x2="330.1" y2="327.9" stroke="#222" stroke-width="0.8"/>
<line x1="349.9" y1="330.7" x2="352.7" y2="327.9" stroke="#222" stroke-width="0.8"/>
<line x1="370.9" y1="330.7" x2="373.7" y2="327.9" stroke="#222" stroke-width="0.8"/>
<line x1="381.9" y1="330.7" x2="384.7" y2="327.9" stroke="#222" stroke-width="0.8"/>
<line x1="412.2" y1="330.7" x2="415" y2="327.9" stroke="#222" stroke-width="0.8"/>
<line x1="415" y1="330.7" x2="417.8" y2="327.9" stroke="#222" stroke-width="0.8"/>
<line x1="485.6" y1="330.7" x2="488.4" y2="327.9" stroke="#222" stroke-width="0.8"/>
<text x="311" y="328.2" font-size="4.5" text-anchor="middle" fill="#222">160</text>
<text x="327" y="328.2" font-size="4.5" text-anchor="middle" fill="#222">220</text>
<text x="362" y="328.2" font-size="4.5" text-anchor="middle" fill="#222">1 420</text>
<text x="378.5" y="328.2" font-size="4.5" text-anchor="middle" fill="#222">210</text>
<text x="398" y="328.2" font-size="4.5" text-anchor="middle" fill="#222">1 500</text>
<text x="420.5" y="328.2" font-size="4.5" text-anchor="middle" fill="#222">120</text>
<text x="452" y="328.2" font-size="4.5" text-anchor="middle" fill="#222">3 650</text>
<text x="483" y="328.2" font-size="4.5" text-anchor="middle" fill="#222">180</text>
<line x1="303.3" y1="268" x2="334.7" y2="268" stroke="#4a4a4a" stroke-width="0.5"/>
<line x1="301.9" y1="269.4" x2="304.7" y2="266.6" stroke="#222" stroke-width="0.8"/>
<line x1="333.3" y1="269.4" x2="336.1" y2="266.6" stroke="#222" stroke-width="0.8"/>
<text x="319" y="266.8" font-size="4.1" text-anchor="middle" fill="#222">1 480</text>
<line x1="303.3" y1="294.5" x2="318" y2="294.5" stroke="#4a4a4a" stroke-width="0.5"/>
<line x1="301.9" y1="295.9" x2="304.7" y2="293.1" stroke="#222" stroke-width="0.8"/>
<line x1="316.6" y1="295.9" x2="319.4" y2="293.1" stroke="#222" stroke-width="0.8"/>
<text x="310.5" y="293.3" font-size="3.9" text-anchor="middle" fill="#222">180</text>
<line x1="344" y1="149" x2="344" y2="168.3" stroke="#111" stroke-width="1.6"/>
<path d="M331.8 154.2 L344 155 L331.8 155.8 Z" fill="#111" stroke="#111" stroke-width="0.8"/>
<line x1="320" y1="155" x2="332" y2="155" stroke="#777" stroke-width="0.6"/>
<text x="324.3" y="150.3" font-size="8.4" text-anchor="middle" fill="#222">1</text>
<line x1="366.4" y1="422.7" x2="366.4" y2="441.8" stroke="#111" stroke-width="1.6"/>
<path d="M354 434.7 L366.4 435.5 L354 436.3 Z" fill="#111" stroke="#111" stroke-width="0.8"/>
<line x1="343.5" y1="435.5" x2="354" y2="435.5" stroke="#777" stroke-width="0.6"/>
<text x="347" y="444.2" font-size="8.4" text-anchor="middle" fill="#222">1</text>
</g>
<g id="inner">
<rect x="298.7" y="223.1" width="4.6" height="56.6" fill="url(#hw)"/>
<rect x="298.7" y="223.1" width="4.6" height="56.6" fill="none" stroke="#111" stroke-width="0.9"/>
<rect x="298.7" y="296.6" width="6.6" height="33.7" fill="url(#hw)"/>
<rect x="298.7" y="296.6" width="6.6" height="33.7" fill="none" stroke="#111" stroke-width="0.9"/>
<rect x="299.6" y="303" width="4.8" height="18" fill="url(#hv)"/>
<line x1="303.3" y1="276.3" x2="334.7" y2="276.3" stroke="#111" stroke-width="1.3"/>
<line x1="303.3" y1="278.7" x2="334.7" y2="278.7" stroke="#444" stroke-width="0.6"/>
<line x1="350.7" y1="276.3" x2="413.6" y2="276.3" stroke="#111" stroke-width="1.3"/>
<line x1="350.7" y1="278.7" x2="413.6" y2="278.7" stroke="#444" stroke-width="0.6"/>
<path d="M379.3 279 L379.3 307.7 L376 307.7 L376 313.7 L383.3 313.7 L383.3 279" fill="none" stroke="#111" stroke-width="0.9"/>
<line x1="381.3" y1="279" x2="381.3" y2="313" stroke="#888" stroke-width="0.5"/>
<line x1="413.6" y1="0" x2="413.6" y2="0" stroke="#000" stroke-width="0"/>
<line x1="413.8" y1="223.1" x2="413.8" y2="334.5" stroke="#111" stroke-width="1.1"/>
<line x1="416.2" y1="223.1" x2="416.2" y2="334.5" stroke="#111" stroke-width="0.9"/>
<line x1="416.2" y1="254.2" x2="490.5" y2="254.2" stroke="#111" stroke-width="1.2"/>
<line x1="416.2" y1="256.3" x2="490.5" y2="256.3" stroke="#444" stroke-width="0.6"/>
<line x1="416.2" y1="302.4" x2="487.3" y2="302.4" stroke="#111" stroke-width="1.4"/>
<rect x="490.2" y="242" width="4.6" height="28" fill="url(#hw)"/>
<rect x="490.2" y="242" width="4.6" height="28" fill="none" stroke="#111" stroke-width="0.9"/>
<path d="M487.3 334.6 L487.3 295.7 L490 295.7 L490 288.4 L495 288.4 L495 341.5 L487.3 341.5 Z" fill="#fff"/>
<path d="M487.3 334.6 L487.3 295.7 L490 295.7 L490 288.4 L495 288.4 L495 341.5 L487.3 341.5 Z" fill="url(#hw)"/>
<path d="M487.3 334.6 L487.3 295.7 L490 295.7 L490 288.4 L495 288.4 L495 341.3" fill="none" stroke="#111" stroke-width="0.9"/>
<rect x="489" y="297.5" width="4.8" height="22.5" fill="url(#hv)"/>
<rect x="490.6" y="223.5" width="3.6" height="5" fill="none" stroke="#111" stroke-width="0.7"/>
<line x1="303.3" y1="299" x2="318" y2="299" stroke="#111" stroke-width="1.5"/>
<line x1="306" y1="301" x2="318" y2="301" stroke="#666" stroke-width="0.5"/>
<path d="M332.7 299 L351.3 299 L351.3 330" fill="none" stroke="#111" stroke-width="1.4"/>
<path d="M334 301 L349.3 301 L349.3 330" fill="none" stroke="#666" stroke-width="0.5"/>
<rect x="352" y="306.7" width="4" height="3.3" fill="#999" stroke="#333" stroke-width="0.6"/>
<ellipse cx="344.6" cy="308.8" rx="3.3" ry="4.2" fill="none" stroke="#333" stroke-width="0.7"/>
<rect x="340.2" y="303.6" width="9.2" height="10.2" rx="2.5" fill="none" stroke="#666" stroke-width="0.6"/>
<line x1="345" y1="308.8" x2="351" y2="308.8" stroke="#444" stroke-width="0.5"/>
<ellipse cx="339.5" cy="326.5" rx="3.2" ry="2.2" fill="none" stroke="#333" stroke-width="0.6"/>
<rect x="343" y="324" width="4" height="5" fill="none" stroke="#333" stroke-width="0.6"/>
<path d="M306 317 A13 13 0 0 1 322.5 329" fill="none" stroke="#555" stroke-width="0.55"/>
<path d="M306 311 A18 18 0 0 1 324 329" fill="none" stroke="#888" stroke-width="0.5"/>
<line x1="306.8" y1="301" x2="306.8" y2="330" stroke="#666" stroke-width="0.5"/>
<line x1="309" y1="303" x2="312.5" y2="310" stroke="#222" stroke-width="0.8"/>
<line x1="311" y1="302" x2="314" y2="309" stroke="#555" stroke-width="0.5"/>
<line x1="305.3" y1="334" x2="328.7" y2="334" stroke="#111" stroke-width="1.2"/>
<line x1="328.7" y1="330" x2="328.7" y2="334" stroke="#111" stroke-width="0.8"/>
<rect x="286.7" y="308" width="12" height="22.3" fill="none" stroke="#666" stroke-width="0.5"/>
<circle cx="289.7" cy="321.5" r="1.5" fill="none" stroke="#333" stroke-width="0.6"/>
<circle cx="294.6" cy="321.5" r="1.5" fill="none" stroke="#333" stroke-width="0.6"/>
<line x1="286.7" y1="318.2" x2="298.7" y2="318.2" stroke="#666" stroke-width="0.5"/>
<line x1="286.7" y1="324.5" x2="298.7" y2="324.5" stroke="#888" stroke-width="0.5"/>
<text x="292.4" y="329" font-size="3.8" text-anchor="middle" fill="#333">600</text>
<rect x="256" y="330.6" width="13.3" height="7.4" fill="none" stroke="#777" stroke-width="0.5"/>
<rect x="258" y="332.6" width="3.5" height="6" fill="#111" stroke="#111" stroke-width="0.5"/>
<line x1="262" y1="335.5" x2="268" y2="335.5" stroke="#666" stroke-width="0.5"/>
<line x1="275.6" y1="332" x2="275.6" y2="352" stroke="#777" stroke-width="0.5"/>
<rect x="350.4" y="289.4" width="12.3" height="5.3" fill="#ddd" stroke="#555" stroke-width="0.5"/>
<text x="356.5" y="293.6" font-size="4.2" text-anchor="middle" fill="#444">0,000</text>
<path d="M344 226.7 L344 238.7 L366.7 238.7 L366.7 250.4" fill="none" stroke="#111" stroke-width="1.3"/>
<circle cx="258.3" cy="268.2" r="9" fill="#fff" stroke="#222" stroke-width="0.7"/>
<text x="258.3" y="271.1" font-size="8.2" text-anchor="middle" textLength="8.6" lengthAdjust="spacingAndGlyphs" fill="#222">01</text>
<circle cx="333.7" cy="248.7" r="9" fill="#fff" stroke="#222" stroke-width="0.7"/>
<text x="333.7" y="251.6" font-size="8.2" text-anchor="middle" textLength="8.6" lengthAdjust="spacingAndGlyphs" fill="#222">02</text>
<circle cx="357" cy="253" r="9" fill="#fff" stroke="#222" stroke-width="0.7"/>
<text x="357" y="255.9" font-size="8.2" text-anchor="middle" textLength="8.6" lengthAdjust="spacingAndGlyphs" fill="#222">03</text>
<circle cx="396.4" cy="257.7" r="9" fill="#fff" stroke="#222" stroke-width="0.7"/>
<text x="396.4" y="260.6" font-size="8.2" text-anchor="middle" textLength="8.6" lengthAdjust="spacingAndGlyphs" fill="#222">06</text>
<circle cx="460" cy="284.6" r="9" fill="#fff" stroke="#222" stroke-width="0.7"/>
<text x="460" y="287.5" font-size="8.2" text-anchor="middle" textLength="8.6" lengthAdjust="spacingAndGlyphs" fill="#222">07</text>
<circle cx="479" cy="199.5" r="9" fill="#fff" stroke="#222" stroke-width="0.7"/>
<text x="479" y="202.4" font-size="8.2" text-anchor="middle" textLength="8.6" lengthAdjust="spacingAndGlyphs" fill="#222">08</text>
<circle cx="531.4" cy="268.6" r="9" fill="#fff" stroke="#222" stroke-width="0.7"/>
<text x="531.4" y="271.5" font-size="8.2" text-anchor="middle" textLength="8.6" lengthAdjust="spacingAndGlyphs" fill="#222">09</text>
<circle cx="459.6" cy="314.7" r="9" fill="#fff" stroke="#222" stroke-width="0.7"/>
<text x="459.6" y="317.6" font-size="8.2" text-anchor="middle" textLength="8.6" lengthAdjust="spacingAndGlyphs" fill="#222">10</text>
<circle cx="319" cy="364" r="9" fill="#fff" stroke="#222" stroke-width="0.7"/>
<text x="319" y="366.9" font-size="8.2" text-anchor="middle" textLength="8.6" lengthAdjust="spacingAndGlyphs" fill="#222">04</text>
<circle cx="340.3" cy="364" r="9" fill="#fff" stroke="#222" stroke-width="0.7"/>
<text x="340.3" y="366.9" font-size="8.2" text-anchor="middle" textLength="8.6" lengthAdjust="spacingAndGlyphs" fill="#222">05</text>
<line x1="476" y1="208" x2="466.4" y2="230.5" stroke="#444" stroke-width="0.5"/>
<line x1="357" y1="262" x2="355.5" y2="284" stroke="#444" stroke-width="0.5"/>
<line x1="396" y1="266.7" x2="391.5" y2="291" stroke="#444" stroke-width="0.5"/>
<line x1="318.3" y1="355" x2="318.3" y2="331" stroke="#444" stroke-width="0.5"/>
<line x1="342.5" y1="355.3" x2="345.2" y2="337" stroke="#444" stroke-width="0.5"/>
<circle cx="343" cy="279.3" r="4.4" fill="#fff" stroke="#333" stroke-width="0.55"/>
<text x="343" y="280.9" font-size="4.6" text-anchor="middle" fill="#333">4</text>
<circle cx="302.3" cy="288" r="4.4" fill="#fff" stroke="#333" stroke-width="0.55"/>
<text x="302.3" y="289.6" font-size="4.6" text-anchor="middle" fill="#333">2</text>
<circle cx="325.7" cy="302.6" r="4.4" fill="#fff" stroke="#333" stroke-width="0.55"/>
<text x="325.7" y="304.2" font-size="4.6" text-anchor="middle" fill="#333">1</text>
<circle cx="366" cy="306.7" r="4.4" fill="#fff" stroke="#333" stroke-width="0.55"/>
<text x="366" y="308.3" font-size="4.6" text-anchor="middle" fill="#333">7</text>
<circle cx="366.4" cy="341" r="4.4" fill="#fff" stroke="#333" stroke-width="0.55"/>
<text x="366.4" y="342.6" font-size="4.6" text-anchor="middle" fill="#333">7</text>
<circle cx="380" cy="322" r="4.4" fill="#fff" stroke="#333" stroke-width="0.55"/>
<text x="380" y="323.6" font-size="4.6" text-anchor="middle" fill="#333">4</text>
<circle cx="426.7" cy="341" r="4.4" fill="#fff" stroke="#333" stroke-width="0.55"/>
<text x="426.7" y="342.6" font-size="4.6" text-anchor="middle" fill="#333">6</text>
<circle cx="493" cy="280" r="4.4" fill="#fff" stroke="#333" stroke-width="0.55"/>
<text x="493" y="281.6" font-size="4.6" text-anchor="middle" fill="#333">5</text>
<circle cx="491.2" cy="234" r="4.4" fill="#fff" stroke="#333" stroke-width="0.55"/>
<text x="491.2" y="235.6" font-size="4.6" text-anchor="middle" fill="#333">3</text>
<line x1="337" y1="268.5" x2="349" y2="276" stroke="#444" stroke-width="0.5"/>
<line x1="329.5" y1="299.5" x2="340" y2="291" stroke="#444" stroke-width="0.5"/>
<line x1="290" y1="275" x2="299" y2="292" stroke="#444" stroke-width="0.5"/>
<line x1="369.5" y1="310" x2="377" y2="314" stroke="#444" stroke-width="0.5"/>
<line x1="384" y1="318" x2="392" y2="303" stroke="#444" stroke-width="0.5"/>
<line x1="370.5" y1="343.5" x2="381" y2="351" stroke="#444" stroke-width="0.5"/>
<line x1="420" y1="349" x2="431" y2="341.8" stroke="#444" stroke-width="0.5"/>
<line x1="489.5" y1="283.5" x2="481" y2="297" stroke="#444" stroke-width="0.5"/>
<line x1="495" y1="238" x2="503" y2="248" stroke="#444" stroke-width="0.5"/>
<line x1="357" y1="312" x2="366" y2="318" stroke="#444" stroke-width="0.5"/>
<rect x="505" y="303" width="53.2" height="41" fill="none" stroke="#444" stroke-width="0.7" stroke-dasharray="4 2.2"/>
<line x1="505" y1="303" x2="558.2" y2="344" stroke="#555" stroke-width="0.55" stroke-dasharray="5 2.5"/>
<line x1="558.2" y1="303" x2="505" y2="344" stroke="#555" stroke-width="0.55" stroke-dasharray="5 2.5"/>
<circle cx="531.8" cy="338.2" r="4.5" fill="#fff" stroke="#333" stroke-width="0.55"/>
<text x="531.8" y="339.6" font-size="3.6" text-anchor="middle" fill="#333">Вр1</text>
<path d="M504.5 352.3 L500 375.5 L562.7 375.5 L558.2 352.3" fill="none" stroke="#333" stroke-width="0.6"/>
<line x1="504.5" y1="352.3" x2="504.5" y2="375.5" stroke="#666" stroke-width="0.5"/>
<line x1="558.2" y1="352.3" x2="558.2" y2="375.5" stroke="#666" stroke-width="0.5"/>
<circle cx="531.3" cy="352.3" r="1.7" fill="#fff" stroke="#333" stroke-width="0.5"/>
<line x1="531.3" y1="354" x2="531.3" y2="375" stroke="#444" stroke-width="0.5"/>
<path d="M530.5 371 L531.3 375.3 L532.1 371 Z" fill="#333" stroke="#333" stroke-width="0.5"/>
<text x="529.7" y="364" font-size="4.2" text-anchor="middle" transform="rotate(-90 529.7 364)" fill="#444">18</text>
</g>
</svg>
</body></html>
